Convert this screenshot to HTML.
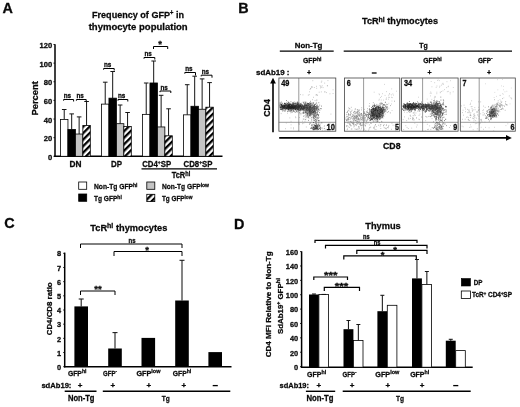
<!DOCTYPE html>
<html><head><meta charset="utf-8"><title>Figure</title>
<style>
html,body{margin:0;padding:0;background:#fff;}
body{width:520px;height:407px;overflow:hidden;}
svg{display:block;font-family:"Liberation Sans",sans-serif;filter:blur(0.4px);}
text{fill:#0a0a0a;stroke:#0a0a0a;stroke-width:0.28px;}
</style></head><body>
<svg width="520" height="407" viewBox="0 0 520 407">
<defs>
<pattern id="hatch" width="4.6" height="4.6" patternUnits="userSpaceOnUse" patternTransform="rotate(-45)">
<rect width="4.6" height="4.6" fill="#fff"/><rect width="4.6" height="2.3" fill="#000"/>
</pattern>
</defs>
<rect width="520" height="407" fill="#fff"/>
<g>
<text x="7.75" y="12.78" font-size="14.4" text-anchor="middle" font-weight="bold">A</text>
<text x="243.5" y="12.78" font-size="14.4" text-anchor="middle" font-weight="bold">B</text>
<text x="9.5" y="228.18" font-size="14.4" text-anchor="middle" font-weight="bold">C</text>
<text x="239.3" y="229.18" font-size="14.4" text-anchor="middle" font-weight="bold">D</text>
<text x="138" y="17.63" font-size="9.8" text-anchor="middle" font-weight="bold" textLength="92" lengthAdjust="spacingAndGlyphs">Frequency of GFP<tspan font-size="64%" dy="-0.475em">+</tspan><tspan dy="0.304em"> in</tspan></text>
<text x="138.2" y="30.13" font-size="9.8" text-anchor="middle" font-weight="bold" textLength="99" lengthAdjust="spacingAndGlyphs">thymocyte population</text>
<path d="M55 44.3L55 157.0" stroke="#000" stroke-width="1.5" fill="none"/>
<path d="M54.3 156.3L222.5 156.3" stroke="#000" stroke-width="1.5" fill="none"/>
<path d="M53.4 156.3L55 156.3" stroke="#000" stroke-width="0.8" fill="none"/>
<text x="52.2" y="159.94" font-size="7.6" text-anchor="end" font-weight="bold">0</text>
<path d="M53.4 137.666L55 137.666" stroke="#000" stroke-width="0.8" fill="none"/>
<text x="52.2" y="141.30" font-size="7.6" text-anchor="end" font-weight="bold">20</text>
<path d="M53.4 119.03200000000001L55 119.03200000000001" stroke="#000" stroke-width="0.8" fill="none"/>
<text x="52.2" y="122.67" font-size="7.6" text-anchor="end" font-weight="bold">40</text>
<path d="M53.4 100.39800000000001L55 100.39800000000001" stroke="#000" stroke-width="0.8" fill="none"/>
<text x="52.2" y="104.03" font-size="7.6" text-anchor="end" font-weight="bold">60</text>
<path d="M53.4 81.76400000000001L55 81.76400000000001" stroke="#000" stroke-width="0.8" fill="none"/>
<text x="52.2" y="85.40" font-size="7.6" text-anchor="end" font-weight="bold">80</text>
<path d="M53.4 63.13000000000001L55 63.13000000000001" stroke="#000" stroke-width="0.8" fill="none"/>
<text x="52.2" y="66.77" font-size="7.6" text-anchor="end" font-weight="bold">100</text>
<path d="M53.4 44.49600000000001L55 44.49600000000001" stroke="#000" stroke-width="0.8" fill="none"/>
<text x="52.2" y="48.13" font-size="7.6" text-anchor="end" font-weight="bold">120</text>
<text x="34.7" y="101.72" font-size="9.5" text-anchor="middle" font-weight="bold" textLength="34.3" lengthAdjust="spacingAndGlyphs" transform="rotate(-90 34.7 98.3)">Percent</text>
<path d="M64.225 119.40468000000001L64.225 109.5" stroke="#151515" stroke-width="1.0" fill="none"/>
<path d="M61.925 109.5L66.52499999999999 109.5" stroke="#151515" stroke-width="1.0" fill="none"/>
<rect x="60.50" y="119.40" width="7.45" height="36.90" fill="#fff" stroke="#000" stroke-width="0.8"/>
<path d="M71.675 129.46704L71.675 113.9" stroke="#151515" stroke-width="1.0" fill="none"/>
<path d="M69.375 113.9L73.975 113.9" stroke="#151515" stroke-width="1.0" fill="none"/>
<rect x="67.95" y="129.47" width="7.45" height="26.83" fill="#000" stroke="#000" stroke-width="0.8"/>
<path d="M79.125 134.03237000000001L79.125 116.9" stroke="#151515" stroke-width="1.0" fill="none"/>
<path d="M76.825 116.9L81.425 116.9" stroke="#151515" stroke-width="1.0" fill="none"/>
<rect x="75.40" y="134.03" width="7.45" height="22.27" fill="#c4c4c4" stroke="#000" stroke-width="0.8"/>
<path d="M86.57499999999999 125.55390000000001L86.57499999999999 101.5" stroke="#151515" stroke-width="1.0" fill="none"/>
<path d="M84.27499999999999 101.5L88.87499999999999 101.5" stroke="#151515" stroke-width="1.0" fill="none"/>
<rect x="82.85" y="125.55" width="7.45" height="30.75" fill="url(#hatch)" stroke="#000" stroke-width="0.8"/>
<path d="M105.225 104.12480000000002L105.225 82.2" stroke="#151515" stroke-width="1.0" fill="none"/>
<path d="M102.925 82.2L107.52499999999999 82.2" stroke="#151515" stroke-width="1.0" fill="none"/>
<rect x="101.50" y="104.12" width="7.45" height="52.18" fill="#fff" stroke="#000" stroke-width="0.8"/>
<path d="M112.675 98.16192000000001L112.675 71.5" stroke="#151515" stroke-width="1.0" fill="none"/>
<path d="M110.375 71.5L114.975 71.5" stroke="#151515" stroke-width="1.0" fill="none"/>
<rect x="108.95" y="98.16" width="7.45" height="58.14" fill="#000" stroke="#000" stroke-width="0.8"/>
<path d="M120.125 123.69050000000001L120.125 105" stroke="#151515" stroke-width="1.0" fill="none"/>
<path d="M117.825 105L122.425 105" stroke="#151515" stroke-width="1.0" fill="none"/>
<rect x="116.40" y="123.69" width="7.45" height="32.61" fill="#c4c4c4" stroke="#000" stroke-width="0.8"/>
<path d="M127.57499999999999 126.4856L127.57499999999999 112.5" stroke="#151515" stroke-width="1.0" fill="none"/>
<path d="M125.27499999999999 112.5L129.875 112.5" stroke="#151515" stroke-width="1.0" fill="none"/>
<rect x="123.85" y="126.49" width="7.45" height="29.81" fill="url(#hatch)" stroke="#000" stroke-width="0.8"/>
<path d="M146.225 114.3735L146.225 83" stroke="#151515" stroke-width="1.0" fill="none"/>
<path d="M143.92499999999998 83L148.525 83" stroke="#151515" stroke-width="1.0" fill="none"/>
<rect x="142.50" y="114.37" width="7.45" height="41.93" fill="#fff" stroke="#000" stroke-width="0.8"/>
<path d="M153.67499999999998 82.97521L153.67499999999998 61" stroke="#151515" stroke-width="1.0" fill="none"/>
<path d="M151.37499999999997 61L155.975 61" stroke="#151515" stroke-width="1.0" fill="none"/>
<rect x="149.95" y="82.98" width="7.45" height="73.32" fill="#000" stroke="#000" stroke-width="0.8"/>
<path d="M161.125 126.95145000000001L161.125 95.3" stroke="#151515" stroke-width="1.0" fill="none"/>
<path d="M158.825 95.3L163.425 95.3" stroke="#151515" stroke-width="1.0" fill="none"/>
<rect x="157.40" y="126.95" width="7.45" height="29.35" fill="#c4c4c4" stroke="#000" stroke-width="0.8"/>
<path d="M168.575 135.8026L168.575 108.8" stroke="#151515" stroke-width="1.0" fill="none"/>
<path d="M166.27499999999998 108.8L170.875 108.8" stroke="#151515" stroke-width="1.0" fill="none"/>
<rect x="164.85" y="135.80" width="7.45" height="20.50" fill="url(#hatch)" stroke="#000" stroke-width="0.8"/>
<path d="M187.225 114.83935000000001L187.225 84.7" stroke="#151515" stroke-width="1.0" fill="none"/>
<path d="M184.92499999999998 84.7L189.525 84.7" stroke="#151515" stroke-width="1.0" fill="none"/>
<rect x="183.50" y="114.84" width="7.45" height="41.46" fill="#fff" stroke="#000" stroke-width="0.8"/>
<path d="M194.67499999999998 106.26771000000001L194.67499999999998 76.2" stroke="#151515" stroke-width="1.0" fill="none"/>
<path d="M192.37499999999997 76.2L196.975 76.2" stroke="#151515" stroke-width="1.0" fill="none"/>
<rect x="190.95" y="106.27" width="7.45" height="50.03" fill="#000" stroke="#000" stroke-width="0.8"/>
<path d="M202.125 109.24915000000001L202.125 78.9" stroke="#151515" stroke-width="1.0" fill="none"/>
<path d="M199.825 78.9L204.425 78.9" stroke="#151515" stroke-width="1.0" fill="none"/>
<rect x="198.40" y="109.25" width="7.45" height="47.05" fill="#c4c4c4" stroke="#000" stroke-width="0.8"/>
<path d="M209.575 107.19941L209.575 82.6" stroke="#151515" stroke-width="1.0" fill="none"/>
<path d="M207.27499999999998 82.6L211.875 82.6" stroke="#151515" stroke-width="1.0" fill="none"/>
<rect x="205.85" y="107.20" width="7.45" height="49.10" fill="url(#hatch)" stroke="#000" stroke-width="0.8"/>
<path d="M63.6 100.7L63.6 99.5L73.6 99.5L73.6 101.5" stroke="#000" stroke-width="1.0" fill="none"/>
<text x="67.39999999999999" y="98.34" font-size="7.6" text-anchor="middle" font-weight="bold" textLength="7.4" lengthAdjust="spacingAndGlyphs">ns</text>
<path d="M76.4 100.7L76.4 99.5L86.2 99.5L86.2 101.5" stroke="#000" stroke-width="1.0" fill="none"/>
<text x="80.10000000000001" y="98.34" font-size="7.6" text-anchor="middle" font-weight="bold" textLength="7.4" lengthAdjust="spacingAndGlyphs">ns</text>
<path d="M103.6 69.7L103.6 68.5L114.2 68.5L114.2 70.5" stroke="#000" stroke-width="1.0" fill="none"/>
<text x="107.7" y="67.34" font-size="7.6" text-anchor="middle" font-weight="bold" textLength="7.4" lengthAdjust="spacingAndGlyphs">ns</text>
<path d="M118 100.7L118 99.5L127.8 99.5L127.8 101.5" stroke="#000" stroke-width="1.0" fill="none"/>
<text x="121.7" y="98.34" font-size="7.6" text-anchor="middle" font-weight="bold" textLength="7.4" lengthAdjust="spacingAndGlyphs">ns</text>
<path d="M144 58.7L144 57.5L154.8 57.5L154.8 59.5" stroke="#000" stroke-width="1.0" fill="none"/>
<text x="148.20000000000002" y="56.34" font-size="7.6" text-anchor="middle" font-weight="bold" textLength="7.4" lengthAdjust="spacingAndGlyphs">ns</text>
<path d="M160 92.2L160 91L170.8 91L170.8 93" stroke="#000" stroke-width="1.0" fill="none"/>
<text x="164.20000000000002" y="89.84" font-size="7.6" text-anchor="middle" font-weight="bold" textLength="7.4" lengthAdjust="spacingAndGlyphs">ns</text>
<path d="M184.8 73.7L184.8 72.5L195.5 72.5L195.5 75.5" stroke="#000" stroke-width="1.0" fill="none"/>
<text x="188.95000000000002" y="71.34" font-size="7.6" text-anchor="middle" font-weight="bold" textLength="7.4" lengthAdjust="spacingAndGlyphs">ns</text>
<path d="M201.2 76.4L201.2 75.2L212 75.2L212 77.7" stroke="#000" stroke-width="1.0" fill="none"/>
<text x="205.4" y="74.04" font-size="7.6" text-anchor="middle" font-weight="bold" textLength="7.4" lengthAdjust="spacingAndGlyphs">ns</text>
<path d="M153.5 49L153.5 46.5L167.7 46.5L167.7 49" stroke="#000" stroke-width="1.0" fill="none"/>
<text x="160" y="47.42" font-size="9.5" text-anchor="middle" font-weight="bold">*</text>
<text x="75.5" y="167.24" font-size="9" text-anchor="middle" font-weight="bold" textLength="12" lengthAdjust="spacingAndGlyphs">DN</text>
<text x="116.5" y="167.24" font-size="9" text-anchor="middle" font-weight="bold" textLength="11" lengthAdjust="spacingAndGlyphs">DP</text>
<text x="156.7" y="166.95" font-size="9.3" text-anchor="middle" font-weight="bold" textLength="29" lengthAdjust="spacingAndGlyphs">CD4<tspan font-size="64%" dy="-0.475em">+</tspan><tspan dy="0.304em">SP</tspan></text>
<text x="198" y="166.95" font-size="9.3" text-anchor="middle" font-weight="bold" textLength="29" lengthAdjust="spacingAndGlyphs">CD8<tspan font-size="64%" dy="-0.475em">+</tspan><tspan dy="0.304em">SP</tspan></text>
<path d="M141.5 168.8L217 168.8" stroke="#000" stroke-width="1.2" fill="none"/>
<text x="181" y="178.40" font-size="8.6" text-anchor="middle" font-weight="bold" textLength="18.5" lengthAdjust="spacingAndGlyphs">TcR<tspan font-size="76%" dy="-0.4em">hi</tspan></text>
<rect x="78.70" y="182.00" width="8.00" height="7.30" fill="#fff" stroke="#000" stroke-width="0.8"/>
<rect x="78.70" y="194.00" width="8.00" height="7.30" fill="#000" stroke="#000" stroke-width="0.8"/>
<rect x="146.80" y="182.00" width="8.00" height="7.30" fill="#c4c4c4" stroke="#000" stroke-width="0.8"/>
<rect x="146.80" y="194.30" width="8.00" height="7.30" fill="url(#hatch)" stroke="#000" stroke-width="0.8"/>
<text x="94" y="189.20" font-size="7.5" text-anchor="start" font-weight="bold" textLength="43.5" lengthAdjust="spacingAndGlyphs">Non-Tg GFP<tspan font-size="76%" dy="-0.4em">hi</tspan></text>
<text x="94" y="201.20" font-size="7.5" text-anchor="start" font-weight="bold" textLength="27.8" lengthAdjust="spacingAndGlyphs">Tg GFP<tspan font-size="76%" dy="-0.4em">hi</tspan></text>
<text x="162" y="189.20" font-size="7.5" text-anchor="start" font-weight="bold" textLength="47" lengthAdjust="spacingAndGlyphs">Non-Tg GFP<tspan font-size="76%" dy="-0.4em">low</tspan></text>
<text x="162" y="201.20" font-size="7.5" text-anchor="start" font-weight="bold" textLength="30.5" lengthAdjust="spacingAndGlyphs">Tg GFP<tspan font-size="76%" dy="-0.4em">low</tspan></text>
<text x="400" y="24.46" font-size="9.6" text-anchor="middle" font-weight="bold" textLength="76" lengthAdjust="spacingAndGlyphs">TcR<tspan font-size="76%" dy="-0.4em">hi</tspan><tspan dy="0.304em"> thymocytes</tspan></text>
<text x="308.5" y="48.18" font-size="8" text-anchor="middle" font-weight="bold" textLength="27.5" lengthAdjust="spacingAndGlyphs">Non-Tg</text>
<path d="M279.8 51.2L333.7 51.2" stroke="#000" stroke-width="1.3" fill="none"/>
<text x="423.6" y="47.88" font-size="8" text-anchor="middle" font-weight="bold" textLength="8.5" lengthAdjust="spacingAndGlyphs">Tg</text>
<path d="M343.7 51.2L512 51.2" stroke="#000" stroke-width="1.3" fill="none"/>
<text x="312.3" y="62.94" font-size="7.6" text-anchor="middle" font-weight="bold" textLength="18.5" lengthAdjust="spacingAndGlyphs">GFP<tspan font-size="76%" dy="-0.4em">hi</tspan></text>
<text x="432.5" y="62.94" font-size="7.6" text-anchor="middle" font-weight="bold" textLength="18.5" lengthAdjust="spacingAndGlyphs">GFP<tspan font-size="76%" dy="-0.4em">hi</tspan></text>
<text x="485.3" y="62.54" font-size="7.6" text-anchor="middle" font-weight="bold" textLength="14.8" lengthAdjust="spacingAndGlyphs">GFP<tspan font-size="76%" dy="-0.4em">-</tspan></text>
<text x="256" y="74.81" font-size="7.8" text-anchor="start" font-weight="bold" textLength="33.5" lengthAdjust="spacingAndGlyphs">sdAb19 :</text>
<text x="309" y="75.32" font-size="7" text-anchor="middle" font-weight="bold">+</text>
<text x="429.5" y="75.32" font-size="7" text-anchor="middle" font-weight="bold">+</text>
<text x="489" y="75.32" font-size="7" text-anchor="middle" font-weight="bold">+</text>
<path d="M371.8 73L376.6 73" stroke="#000" stroke-width="1.3" fill="none"/>
<rect x="278.90" y="78.00" width="56.90" height="53.20" fill="#fff" stroke="#444" stroke-width="0.8"/>
<path d="M298.8 78.0L298.8 131.2" stroke="#555" stroke-width="0.6" fill="none"/>
<path d="M278.9 122.3L335.8 122.3" stroke="#555" stroke-width="0.6" fill="none"/>
<text x="281.2" y="85.99" font-size="8.3" text-anchor="start" font-weight="bold" textLength="8.2" lengthAdjust="spacingAndGlyphs">49</text>
<text x="335.0" y="130.29" font-size="8.3" text-anchor="end" font-weight="bold" textLength="8.4" lengthAdjust="spacingAndGlyphs">10</text>
<rect x="344.40" y="78.00" width="55.40" height="53.20" fill="#fff" stroke="#444" stroke-width="0.8"/>
<path d="M363.6 78.0L363.6 131.2" stroke="#555" stroke-width="0.6" fill="none"/>
<path d="M344.4 122.3L399.8 122.3" stroke="#555" stroke-width="0.6" fill="none"/>
<text x="346.7" y="85.99" font-size="8.3" text-anchor="start" font-weight="bold" textLength="4.0" lengthAdjust="spacingAndGlyphs">6</text>
<text x="399.0" y="130.29" font-size="8.3" text-anchor="end" font-weight="bold" textLength="4.0" lengthAdjust="spacingAndGlyphs">5</text>
<rect x="401.60" y="78.00" width="56.50" height="53.20" fill="#fff" stroke="#444" stroke-width="0.8"/>
<path d="M422.6 78.0L422.6 131.2" stroke="#555" stroke-width="0.6" fill="none"/>
<path d="M401.6 122.3L458.1 122.3" stroke="#555" stroke-width="0.6" fill="none"/>
<text x="403.90000000000003" y="85.99" font-size="8.3" text-anchor="start" font-weight="bold" textLength="8.2" lengthAdjust="spacingAndGlyphs">34</text>
<text x="457.3" y="130.29" font-size="8.3" text-anchor="end" font-weight="bold" textLength="4.0" lengthAdjust="spacingAndGlyphs">9</text>
<rect x="460.30" y="78.00" width="55.00" height="53.20" fill="#fff" stroke="#444" stroke-width="0.8"/>
<path d="M479.2 78.0L479.2 131.2" stroke="#555" stroke-width="0.6" fill="none"/>
<path d="M460.3 122.3L515.3 122.3" stroke="#555" stroke-width="0.6" fill="none"/>
<text x="462.6" y="85.99" font-size="8.3" text-anchor="start" font-weight="bold" textLength="4.0" lengthAdjust="spacingAndGlyphs">7</text>
<text x="514.5" y="130.29" font-size="8.3" text-anchor="end" font-weight="bold" textLength="4.0" lengthAdjust="spacingAndGlyphs">6</text>
<path d="M287.1 107.7h.7M287.3 106.2h.7M282.0 106.4h.7M297.3 107.6h.7M296.8 107.2h.7M292.0 107.1h.7M292.8 107.7h.7M282.3 106.0h.7M291.3 106.7h.7M292.9 105.6h.7M291.3 107.5h.7M284.0 109.9h.7M293.2 109.0h.7M284.3 105.5h.7M286.4 106.6h.7M293.7 107.2h.7M285.6 105.1h.7M285.1 109.0h.7M282.9 107.2h.7M292.2 104.1h.7M289.4 109.2h.7M288.2 105.3h.7M292.7 106.7h.7M294.0 108.5h.7M299.8 107.5h.7M289.9 104.5h.7M293.6 105.7h.7M285.6 104.5h.7M281.7 105.8h.7M298.7 103.1h.7M299.8 107.8h.7M291.7 105.5h.7M280.6 108.6h.7M297.3 107.1h.7M290.8 107.6h.7M301.0 107.9h.7M292.9 107.8h.7M296.2 107.8h.7M295.3 103.5h.7M287.6 108.6h.7M293.1 106.5h.7M291.4 108.0h.7M289.9 108.9h.7M284.0 106.1h.7M296.8 106.8h.7M282.4 108.5h.7M300.0 106.0h.7M287.9 106.3h.7M299.5 105.0h.7M298.5 104.5h.7M283.1 107.9h.7M297.5 108.3h.7M291.6 107.1h.7M290.1 107.8h.7M287.7 107.3h.7M293.3 106.8h.7M294.7 107.8h.7M304.1 107.4h.7M285.8 106.1h.7M288.9 108.5h.7M286.5 107.5h.7M302.8 102.2h.7M280.6 107.2h.7M292.0 107.2h.7M285.8 108.0h.7M291.1 105.9h.7M307.2 107.4h.7M284.8 106.6h.7M287.3 106.7h.7M296.6 104.7h.7M288.5 108.5h.7M295.4 109.5h.7M286.4 107.9h.7M297.2 102.0h.7M297.2 104.2h.7M294.1 104.1h.7M290.3 109.0h.7M287.9 107.1h.7M295.0 107.1h.7M288.3 109.6h.7M296.9 106.3h.7M309.6 104.7h.7M295.9 106.3h.7M290.0 108.1h.7M290.7 107.9h.7M293.6 105.1h.7M281.3 104.2h.7M298.5 108.1h.7M300.0 105.1h.7M289.0 104.7h.7M294.7 109.7h.7M282.3 109.6h.7M296.4 106.5h.7M288.3 105.7h.7M292.0 107.5h.7M300.2 105.0h.7M297.5 109.5h.7M299.9 106.5h.7M283.4 108.6h.7M289.9 107.0h.7M299.7 106.3h.7M291.4 105.7h.7M288.9 108.3h.7M289.6 109.2h.7M288.5 108.7h.7M300.2 109.7h.7M284.0 108.4h.7M279.8 106.8h.7M287.6 106.7h.7M284.6 107.2h.7M302.4 106.9h.7M293.0 108.6h.7M287.5 104.5h.7M284.8 108.7h.7M296.6 108.2h.7M289.1 108.2h.7M290.2 104.7h.7M295.9 105.8h.7M282.2 105.4h.7M280.2 107.5h.7M284.2 103.3h.7M294.4 106.3h.7M291.2 106.0h.7M294.8 108.1h.7M294.0 107.4h.7M299.0 108.0h.7M292.4 103.0h.7M295.7 109.2h.7M286.8 106.0h.7M303.6 103.6h.7M292.5 111.2h.7M282.0 108.0h.7M303.1 106.6h.7M293.2 108.4h.7M282.2 106.6h.7M291.2 108.3h.7M288.7 106.4h.7M281.4 106.2h.7M295.7 107.0h.7M282.6 105.3h.7M309.0 108.9h.7M293.8 102.1h.7M293.7 107.7h.7M301.6 107.6h.7M288.5 107.7h.7M291.4 105.5h.7M298.9 110.1h.7M291.2 107.1h.7M286.0 105.0h.7M304.9 108.7h.7M280.0 104.4h.7M301.8 108.6h.7M302.7 108.3h.7M282.5 107.3h.7M288.6 107.7h.7M283.5 106.6h.7M292.4 107.5h.7M293.8 107.2h.7M286.6 108.2h.7M289.4 105.3h.7M284.3 106.8h.7M288.2 107.1h.7M289.0 107.1h.7M288.0 104.5h.7M292.2 108.7h.7M292.3 106.5h.7M292.3 105.1h.7M282.0 108.1h.7M280.9 102.1h.7M281.2 109.6h.7M286.1 104.3h.7M283.3 107.7h.7M292.7 107.1h.7M300.1 108.1h.7M288.8 107.9h.7M301.4 108.5h.7M296.7 104.9h.7M287.9 108.1h.7M286.8 108.7h.7M293.5 108.4h.7M287.4 111.4h.7M298.3 106.4h.7M289.7 111.5h.7M286.4 108.4h.7M296.4 106.8h.7M280.2 107.1h.7M291.7 108.8h.7M294.9 106.8h.7M295.4 107.8h.7M290.5 106.9h.7M287.2 108.0h.7M281.1 105.7h.7M289.0 104.2h.7M285.7 103.2h.7M283.9 107.8h.7M293.2 106.7h.7M287.3 104.2h.7M302.7 107.7h.7M297.2 105.2h.7M287.6 103.5h.7M294.9 108.5h.7M293.7 103.6h.7M284.3 104.3h.7M289.2 107.2h.7M293.8 108.1h.7M300.3 108.9h.7M281.0 104.9h.7M288.4 106.8h.7M292.7 103.9h.7M279.7 106.8h.7M287.5 106.2h.7M288.5 105.4h.7M294.3 107.4h.7M288.3 105.6h.7M287.7 101.9h.7M281.6 106.9h.7M290.1 104.3h.7M287.1 106.2h.7M292.4 107.9h.7M288.7 105.3h.7M287.9 106.7h.7M294.5 107.3h.7M283.6 104.4h.7M286.2 105.5h.7M280.7 106.6h.7M285.3 107.0h.7M292.9 106.1h.7M306.4 106.2h.7M297.3 107.0h.7M297.4 102.5h.7M283.4 107.2h.7M293.5 111.0h.7M291.4 109.1h.7M294.7 108.5h.7M292.8 106.5h.7M292.8 104.9h.7M297.9 105.0h.7M290.9 110.6h.7M287.3 106.8h.7M297.7 106.8h.7M282.9 107.3h.7M293.4 108.1h.7M283.2 110.0h.7M301.5 106.8h.7M291.0 106.0h.7M299.6 105.5h.7M294.1 105.9h.7M283.8 108.1h.7M299.0 106.8h.7M283.9 108.3h.7M288.6 107.4h.7M300.4 108.8h.7M285.1 110.9h.7M289.0 108.2h.7M284.1 106.7h.7M299.2 104.6h.7M297.8 106.0h.7M288.5 106.2h.7M288.1 104.8h.7M289.2 104.2h.7M288.5 107.4h.7M292.5 106.4h.7M282.2 107.1h.7M285.4 109.6h.7M294.8 106.6h.7M285.5 105.5h.7M282.0 106.2h.7M291.2 107.7h.7M293.3 110.6h.7M283.7 106.8h.7M310.0 103.4h.7M285.1 107.1h.7M290.2 107.5h.7M287.2 107.5h.7M289.4 108.2h.7M289.0 104.9h.7M281.2 107.9h.7M284.1 107.9h.7M294.6 107.4h.7M292.8 106.6h.7M292.4 105.8h.7M288.3 108.1h.7M282.4 108.0h.7M303.0 105.8h.7M290.1 106.5h.7M300.6 107.4h.7M295.7 105.6h.7M288.9 106.8h.7M295.7 103.7h.7M294.6 106.6h.7M292.4 107.5h.7M300.2 105.8h.7M281.3 104.4h.7M279.8 107.4h.7M301.7 107.6h.7M290.8 110.8h.7M285.1 105.6h.7M293.0 107.8h.7M281.4 104.7h.7M291.2 107.2h.7M284.9 107.6h.7M288.1 106.6h.7M286.3 108.7h.7M299.4 106.1h.7M295.3 105.4h.7M289.5 108.1h.7M300.4 106.1h.7M288.4 107.2h.7M283.9 107.5h.7M280.5 103.2h.7M289.3 107.3h.7M284.9 108.4h.7M287.0 105.7h.7M292.6 104.0h.7M283.9 106.8h.7M295.4 106.5h.7M291.3 105.6h.7M291.3 109.8h.7M283.9 111.1h.7M284.2 106.8h.7M290.3 108.6h.7M279.7 103.0h.7M293.5 108.2h.7M293.7 111.5h.7M290.5 107.3h.7M296.0 107.5h.7M301.5 104.6h.7M286.2 100.6h.7M295.1 106.1h.7M295.9 110.7h.7M289.0 106.3h.7M285.3 105.3h.7M284.3 108.0h.7M289.3 106.9h.7M287.7 108.4h.7M292.7 106.5h.7M294.0 106.5h.7M280.4 109.4h.7M292.5 105.1h.7M297.1 107.4h.7M291.5 108.4h.7M290.5 106.5h.7M289.2 106.3h.7M291.6 106.9h.7M294.1 106.1h.7M288.7 102.9h.7M285.8 108.0h.7M299.0 106.1h.7M288.1 109.7h.7M286.6 108.1h.7M301.6 106.9h.7M298.2 105.5h.7M290.6 106.7h.7M289.9 108.8h.7M306.9 105.6h.7M284.7 107.7h.7M281.1 107.7h.7M293.3 106.3h.7M293.0 104.0h.7M294.7 104.0h.7M283.8 105.8h.7M286.0 108.3h.7M289.6 106.1h.7M293.1 109.6h.7M289.0 107.5h.7M298.3 107.3h.7M305.6 103.2h.7M288.7 107.6h.7M296.2 108.0h.7M287.0 104.9h.7M289.8 108.7h.7M280.8 105.0h.7M288.8 103.3h.7M287.0 106.0h.7M292.4 105.5h.7M282.4 106.1h.7M288.6 105.6h.7M289.1 108.2h.7M297.9 109.9h.7M283.1 106.0h.7M283.6 106.7h.7M292.9 104.4h.7M292.5 106.8h.7M298.0 103.4h.7M295.1 107.2h.7M292.6 107.6h.7M298.8 106.4h.7M295.6 106.1h.7M294.5 105.3h.7M288.2 109.9h.7M292.3 106.5h.7M280.4 105.4h.7M290.5 108.5h.7M292.2 107.7h.7M288.7 109.2h.7M286.1 105.8h.7M295.7 106.9h.7M286.9 105.8h.7M287.1 107.9h.7M291.7 104.6h.7M292.2 107.1h.7M281.5 108.2h.7M286.9 106.2h.7M295.0 109.2h.7M283.8 107.6h.7M282.4 111.0h.7M285.3 109.0h.7M284.1 108.3h.7M305.6 102.2h.7M285.7 107.7h.7M288.3 105.6h.7M305.1 106.9h.7M284.7 107.1h.7M298.5 107.0h.7M297.9 108.1h.7M282.9 108.3h.7M292.7 108.0h.7M295.8 108.1h.7M295.6 102.4h.7M290.3 107.7h.7M308.1 105.1h.7M286.5 106.9h.7M295.6 106.0h.7M297.6 105.4h.7M291.0 105.9h.7M290.2 105.6h.7M291.3 105.8h.7M290.5 108.6h.7M281.7 106.6h.7M293.0 107.7h.7M286.5 103.0h.7M298.3 107.4h.7M289.1 106.3h.7M291.0 106.0h.7M281.3 105.5h.7M284.5 105.7h.7M280.3 107.9h.7M281.4 107.4h.7M299.3 107.2h.7M283.5 106.9h.7M290.1 103.7h.7M284.4 107.1h.7M285.5 106.9h.7M294.5 108.2h.7M295.8 107.9h.7M286.8 106.8h.7M287.0 106.2h.7M287.7 103.7h.7M286.5 106.8h.7M281.7 106.8h.7M292.9 106.5h.7M304.6 102.1h.7M287.5 103.5h.7M296.3 111.6h.7M292.9 106.3h.7M293.1 102.8h.7M295.4 107.5h.7M289.2 105.7h.7M293.8 105.9h.7M290.7 105.9h.7M290.5 108.2h.7M282.4 106.7h.7M293.6 107.1h.7M298.3 110.4h.7M282.2 103.3h.7M295.4 109.6h.7M295.9 108.3h.7M284.4 105.5h.7M295.7 105.2h.7M307.7 110.3h.7M283.9 105.5h.7M290.7 105.5h.7M298.8 106.7h.7M280.9 109.2h.7M284.6 107.2h.7M288.9 106.2h.7M291.4 105.6h.7M279.5 105.4h.7M288.8 106.9h.7M293.2 107.0h.7M283.0 105.5h.7M292.6 107.8h.7M288.1 106.5h.7M296.0 106.8h.7M294.5 107.8h.7M290.6 109.2h.7M284.7 106.2h.7M282.9 105.4h.7M300.7 110.0h.7M289.2 107.8h.7M297.8 108.3h.7M298.0 104.5h.7M284.2 107.6h.7M299.8 107.0h.7M282.6 106.2h.7M284.0 105.3h.7M300.3 105.7h.7M289.2 110.7h.7M297.9 107.4h.7M284.4 107.5h.7M301.2 107.9h.7M298.5 107.0h.7M292.9 106.4h.7M292.2 109.1h.7M290.8 105.8h.7M286.7 108.2h.7M304.0 107.9h.7M291.4 104.0h.7M303.5 106.9h.7M288.7 104.8h.7M288.6 104.8h.7M289.5 107.6h.7M289.2 107.3h.7M282.6 109.4h.7M284.1 103.5h.7M287.6 105.4h.7M281.4 106.2h.7M291.2 104.7h.7M288.0 109.4h.7M294.1 106.5h.7M290.0 106.6h.7M288.6 108.1h.7M288.3 102.5h.7M288.8 105.2h.7M293.9 105.7h.7M290.1 110.7h.7M281.1 104.8h.7M284.2 103.4h.7M283.2 106.1h.7M291.5 109.2h.7M303.6 108.7h.7M290.1 107.1h.7M302.5 109.4h.7M286.7 107.6h.7M291.2 106.9h.7M285.2 104.4h.7M285.0 104.0h.7M298.2 107.8h.7M280.0 109.3h.7M295.7 103.4h.7M302.8 108.3h.7M304.5 104.6h.7M293.0 107.6h.7M290.5 107.1h.7M296.9 104.1h.7M279.7 104.3h.7M284.8 105.7h.7M291.8 107.3h.7M289.2 105.6h.7M285.7 108.5h.7M294.7 107.0h.7M286.6 109.6h.7M284.5 108.0h.7M297.7 106.3h.7M295.2 104.8h.7M296.6 107.2h.7M282.3 109.1h.7M283.9 106.5h.7M291.1 106.2h.7M290.9 105.8h.7M294.0 106.8h.7M290.6 101.8h.7M297.7 106.9h.7M292.5 108.7h.7M280.9 109.6h.7M287.8 111.1h.7M287.9 108.0h.7M286.3 104.8h.7M297.2 108.4h.7M300.5 108.3h.7M284.7 103.8h.7M284.1 105.6h.7M282.9 107.8h.7M291.5 106.3h.7M290.3 106.5h.7M290.6 108.2h.7M296.2 105.6h.7M289.9 108.8h.7M289.2 104.2h.7M285.1 108.1h.7M297.1 109.7h.7M282.5 104.3h.7M292.9 108.5h.7M290.4 104.5h.7M294.9 108.2h.7M293.2 105.9h.7M291.3 108.2h.7M284.8 103.5h.7M291.5 107.7h.7M289.1 108.4h.7M284.6 106.7h.7M286.7 107.8h.7M301.0 106.3h.7M304.4 109.6h.7M294.9 107.9h.7M302.3 106.5h.7M288.2 104.9h.7" stroke="#222" stroke-width="0.7" fill="none"/>
<path d="M305.8 110.1h.7M306.2 108.2h.7M301.8 107.7h.7M294.4 109.5h.7M300.5 105.2h.7M298.5 105.8h.7M308.1 109.5h.7M294.9 109.3h.7M308.3 106.2h.7M294.1 105.9h.7M299.2 108.1h.7M300.9 103.3h.7M304.4 104.3h.7M308.4 105.0h.7M298.8 105.7h.7M299.7 110.0h.7M308.1 108.6h.7M304.9 104.3h.7M299.9 106.3h.7M297.1 108.4h.7M298.6 106.0h.7M296.7 103.3h.7M306.6 110.1h.7M304.0 105.4h.7M286.8 107.7h.7M310.3 108.0h.7M308.6 110.4h.7M309.8 106.5h.7M309.3 109.0h.7M293.8 106.6h.7M294.5 107.2h.7M306.5 105.3h.7M290.7 110.0h.7M305.3 110.3h.7M295.1 109.5h.7M315.4 111.4h.7M301.7 107.9h.7M302.1 109.4h.7M309.2 107.6h.7M294.8 108.9h.7M300.2 108.7h.7M304.6 110.6h.7M309.8 106.5h.7M305.1 110.9h.7M299.8 108.3h.7M310.1 109.9h.7M306.1 104.8h.7M295.4 107.9h.7M305.3 112.5h.7M297.8 109.7h.7M307.6 104.1h.7M298.1 107.7h.7M300.0 107.1h.7M305.8 105.8h.7M305.8 106.1h.7M299.7 108.5h.7M299.6 108.0h.7M312.6 107.5h.7M302.1 108.9h.7M300.8 109.6h.7M295.3 108.6h.7M299.9 105.8h.7M313.6 105.7h.7M313.5 108.7h.7M311.7 105.4h.7M310.2 110.3h.7M302.3 107.1h.7M317.7 107.8h.7M300.5 106.1h.7M305.7 108.1h.7M304.1 110.8h.7M301.0 108.3h.7M311.8 105.4h.7M309.2 111.1h.7M294.9 105.2h.7M296.8 103.7h.7M305.7 103.7h.7M306.0 110.3h.7M293.3 106.8h.7M291.5 109.0h.7M298.6 106.9h.7M303.3 108.5h.7M300.9 107.4h.7M299.7 107.6h.7M296.0 107.5h.7M291.4 106.4h.7M314.5 107.6h.7M295.4 107.9h.7M297.2 104.1h.7M298.6 108.9h.7M305.3 107.2h.7M297.4 105.2h.7M311.1 107.9h.7M297.3 103.2h.7M294.8 112.4h.7M296.1 107.2h.7M304.3 107.1h.7M301.3 104.7h.7M296.7 110.8h.7M298.5 109.1h.7M292.8 106.9h.7M304.6 109.5h.7M296.3 108.6h.7M305.3 105.9h.7M305.9 105.6h.7M298.2 107.4h.7M286.7 107.2h.7M297.0 104.5h.7M300.4 108.9h.7M300.6 109.9h.7M296.0 104.8h.7M312.3 108.2h.7M308.7 105.7h.7M307.8 107.9h.7M306.9 107.5h.7M310.2 106.1h.7M297.2 104.4h.7M310.0 105.9h.7M296.7 105.5h.7M300.3 104.9h.7M301.3 106.1h.7M299.7 105.5h.7M303.2 106.5h.7M303.7 107.9h.7M305.0 103.0h.7M299.8 105.8h.7M307.6 104.2h.7M298.7 106.8h.7M301.0 109.4h.7M300.3 109.3h.7M294.2 103.8h.7M310.3 108.3h.7M305.9 107.6h.7M305.9 105.0h.7M308.7 106.3h.7M308.9 107.6h.7M291.2 104.8h.7M309.8 107.1h.7M300.6 107.9h.7M300.4 106.3h.7M303.6 107.7h.7M312.1 107.5h.7M314.3 111.0h.7M313.3 109.5h.7M303.8 107.7h.7M302.1 105.9h.7M302.6 106.1h.7M312.8 108.5h.7M300.3 103.6h.7M302.7 106.6h.7M296.5 105.1h.7M289.5 108.5h.7M302.6 112.6h.7M302.8 107.1h.7M311.7 107.7h.7M304.0 106.7h.7M299.4 110.4h.7M309.0 110.8h.7M300.9 107.5h.7M297.7 109.3h.7M294.6 108.5h.7M309.6 110.2h.7M297.4 109.6h.7M298.7 105.9h.7M295.1 109.7h.7M312.9 106.2h.7M298.4 106.7h.7M318.0 109.4h.7M299.7 103.8h.7M299.0 109.8h.7M314.2 106.9h.7M298.9 106.4h.7M291.7 109.2h.7M296.5 109.5h.7M292.8 104.9h.7M304.7 105.9h.7M307.7 107.4h.7M296.0 108.6h.7M308.1 103.6h.7M314.0 108.4h.7M307.6 103.7h.7M298.7 106.7h.7M309.5 104.5h.7M297.7 103.3h.7M301.6 108.1h.7M292.9 106.2h.7M306.1 110.6h.7M307.0 106.8h.7M295.9 105.5h.7M299.0 107.7h.7M302.7 110.7h.7M304.7 105.3h.7M312.3 109.3h.7M303.6 106.0h.7M291.8 105.4h.7M308.5 105.8h.7M295.1 107.8h.7M304.5 108.6h.7M306.9 110.2h.7M298.0 109.4h.7M297.1 108.8h.7M304.1 107.9h.7M308.8 107.4h.7M309.7 109.2h.7M303.8 106.3h.7M298.5 106.3h.7M301.8 107.4h.7M320.9 108.7h.7M307.6 105.7h.7M298.7 106.8h.7M304.2 105.3h.7M312.7 106.3h.7M309.5 102.7h.7M303.0 108.0h.7M304.1 108.6h.7M304.7 107.7h.7M291.6 106.0h.7M288.9 108.7h.7M304.8 107.0h.7M298.1 106.2h.7M314.1 110.9h.7M302.7 110.0h.7M293.5 103.5h.7M300.1 105.7h.7M299.6 107.8h.7M321.1 106.1h.7M303.3 108.0h.7M302.8 109.3h.7M313.7 104.9h.7M304.0 106.9h.7M305.1 104.3h.7M292.5 102.8h.7M306.2 107.8h.7M303.4 102.7h.7M300.8 105.9h.7M294.5 105.6h.7M307.2 108.5h.7M302.9 108.4h.7M299.4 107.5h.7M303.2 108.5h.7M302.6 107.1h.7M302.2 106.1h.7M316.4 108.4h.7M305.6 112.0h.7M311.4 104.3h.7M307.2 109.1h.7M314.3 110.0h.7M307.6 105.0h.7M297.8 107.9h.7M306.0 105.4h.7M300.7 106.6h.7M303.4 108.1h.7M301.3 104.9h.7M310.5 110.6h.7M302.4 109.4h.7M305.7 108.7h.7M305.9 105.9h.7M306.4 109.4h.7M297.6 111.3h.7M315.5 111.0h.7M314.9 108.9h.7M301.0 106.2h.7M298.1 107.6h.7M302.8 108.7h.7M290.9 112.0h.7M316.7 107.3h.7M307.1 108.4h.7M304.6 107.0h.7M302.3 105.8h.7M304.1 107.4h.7M304.9 105.7h.7M303.2 107.5h.7M306.6 105.3h.7M305.5 109.4h.7M306.6 106.7h.7M300.1 106.9h.7M307.4 110.5h.7M302.1 106.1h.7M305.3 107.8h.7M297.6 105.9h.7M302.4 108.7h.7M295.8 105.4h.7M306.0 105.0h.7M303.7 108.1h.7M302.3 105.4h.7M302.6 106.7h.7M305.0 105.7h.7M309.5 104.0h.7M301.9 107.4h.7M308.8 106.2h.7M306.3 106.3h.7M307.4 110.9h.7M300.6 108.3h.7M297.4 109.3h.7M310.3 107.5h.7M296.2 108.2h.7M309.9 109.6h.7M307.9 103.7h.7M298.9 110.2h.7M295.6 109.7h.7M314.3 108.9h.7M309.7 106.7h.7M295.6 107.2h.7M301.8 107.3h.7M307.2 107.1h.7M304.2 108.2h.7M303.0 111.1h.7M305.7 107.6h.7M301.8 106.1h.7M311.1 107.7h.7M296.5 106.3h.7M302.2 106.5h.7M309.5 105.1h.7M306.0 107.7h.7M295.9 107.5h.7M302.4 108.4h.7M300.3 108.0h.7M293.0 105.2h.7M307.7 109.5h.7M302.9 106.2h.7M309.5 103.2h.7M298.2 108.7h.7M306.9 105.3h.7M291.7 110.3h.7M303.9 105.6h.7M303.3 109.2h.7M287.4 109.6h.7M307.4 103.2h.7M307.6 103.8h.7M309.8 108.2h.7M316.5 106.2h.7M303.0 109.5h.7M299.2 106.0h.7M300.8 107.3h.7M296.5 108.4h.7M306.3 107.5h.7M313.2 106.7h.7M310.8 106.3h.7M307.5 103.5h.7M304.2 107.0h.7" stroke="#333" stroke-width="0.7" fill="none"/>
<path d="M308.9 107.8h.7M309.5 107.4h.7M301.8 107.9h.7M308.7 108.1h.7M306.6 109.5h.7M314.3 109.1h.7M308.9 114.9h.7M315.1 113.3h.7M315.9 108.8h.7M310.5 114.0h.7M308.7 109.6h.7M312.6 111.3h.7M309.8 113.5h.7M310.3 112.6h.7M315.5 112.4h.7M314.1 105.8h.7M305.5 107.8h.7M313.0 115.4h.7M305.9 111.1h.7M307.4 107.4h.7M309.8 112.5h.7M311.9 114.2h.7M306.9 113.2h.7M314.9 110.3h.7M313.0 108.0h.7M306.4 108.5h.7M308.3 120.4h.7M309.0 115.9h.7M311.8 111.1h.7M314.1 107.2h.7M314.8 111.4h.7M304.6 112.2h.7M313.3 111.6h.7M317.7 108.5h.7M313.1 112.7h.7M307.2 114.3h.7M304.9 105.3h.7M313.2 106.1h.7M310.5 104.1h.7M311.3 105.9h.7M312.4 104.5h.7M312.9 109.0h.7M311.3 109.8h.7M311.5 105.2h.7M300.2 110.1h.7M307.1 108.4h.7M312.8 102.9h.7M307.8 107.8h.7M306.6 111.2h.7M310.4 107.0h.7M306.9 112.9h.7M308.2 112.1h.7M312.9 103.2h.7M306.4 110.0h.7M312.4 112.8h.7M314.4 113.7h.7M309.4 109.2h.7M314.3 108.5h.7M315.4 104.3h.7M313.7 109.4h.7M302.7 113.5h.7M312.3 110.1h.7M306.5 108.3h.7M317.3 107.0h.7M296.4 106.9h.7M306.0 109.5h.7M309.3 106.7h.7M307.5 113.8h.7M304.9 117.0h.7M308.7 106.1h.7M314.3 112.0h.7M306.6 112.7h.7M303.3 106.7h.7M315.7 109.1h.7M305.5 111.9h.7M314.9 109.9h.7M303.4 108.8h.7M312.8 112.8h.7M318.8 109.1h.7M309.0 109.9h.7M316.1 106.6h.7M316.5 100.1h.7M314.3 107.6h.7M312.9 112.5h.7M306.0 109.7h.7M312.0 112.1h.7M307.1 106.4h.7M302.9 119.1h.7M310.2 109.2h.7M304.7 113.3h.7M308.8 115.2h.7M314.6 110.1h.7M314.1 106.0h.7M309.6 107.9h.7M305.7 110.1h.7M310.4 115.2h.7M296.9 107.6h.7M307.1 108.3h.7M312.8 111.5h.7M311.1 108.3h.7M313.1 111.3h.7M303.3 109.1h.7M305.2 105.7h.7M311.6 110.2h.7M311.5 106.8h.7M310.2 106.7h.7M312.6 112.5h.7M318.4 114.6h.7M307.6 108.4h.7M307.1 111.1h.7M319.3 112.6h.7M301.8 105.5h.7M305.6 111.9h.7M311.0 111.1h.7M318.5 107.0h.7M307.4 117.1h.7M312.4 107.2h.7M302.5 104.5h.7M300.7 110.2h.7M311.2 113.6h.7M310.4 107.5h.7M307.9 116.8h.7M303.6 110.6h.7M311.1 112.2h.7M309.3 111.8h.7M314.4 109.5h.7M309.1 109.3h.7M306.9 109.3h.7M309.7 110.8h.7M316.6 114.7h.7M309.1 112.2h.7M312.2 112.7h.7M311.1 111.0h.7M309.0 107.2h.7M314.7 114.7h.7M313.8 111.6h.7M312.1 108.4h.7M303.5 112.4h.7M311.8 108.0h.7M306.9 114.6h.7M303.4 116.3h.7M313.7 118.5h.7M308.0 109.9h.7M308.9 110.6h.7M310.1 107.3h.7M315.5 107.2h.7M308.9 112.0h.7M308.7 108.4h.7M312.5 108.7h.7M305.8 109.6h.7M310.1 116.1h.7M306.4 113.5h.7M307.7 108.7h.7M309.6 111.0h.7M314.6 116.3h.7M308.3 114.8h.7M315.2 112.9h.7M307.8 113.2h.7M310.5 111.3h.7M309.9 112.4h.7M315.7 114.1h.7M310.1 113.6h.7M317.1 106.6h.7M317.2 105.2h.7M313.3 112.1h.7M317.2 111.0h.7M309.0 107.1h.7M305.7 112.8h.7M310.0 107.4h.7M313.2 107.2h.7M309.2 108.3h.7M317.9 115.3h.7M310.3 104.3h.7M312.2 110.3h.7M312.5 112.0h.7M309.7 113.3h.7M314.5 110.8h.7M309.3 108.3h.7M313.9 106.0h.7M310.3 107.3h.7M305.1 112.2h.7M310.9 110.1h.7M314.7 104.6h.7M310.7 111.0h.7M314.5 106.1h.7M314.0 110.8h.7M316.7 114.1h.7M313.3 117.7h.7M311.0 108.5h.7M309.6 106.6h.7M310.9 103.2h.7M310.6 111.5h.7M315.2 108.7h.7M316.8 107.7h.7M310.4 103.2h.7M307.8 107.2h.7M317.1 111.9h.7M306.5 111.9h.7M313.0 109.2h.7M311.1 108.9h.7M308.8 103.8h.7M310.6 114.5h.7M316.9 109.0h.7M307.9 109.3h.7M314.7 111.2h.7M308.6 111.3h.7M310.2 111.8h.7M309.3 104.8h.7M311.2 112.7h.7M306.5 109.6h.7M314.6 108.7h.7M308.3 117.1h.7M314.4 113.6h.7M307.1 115.7h.7M304.2 108.2h.7M314.0 114.7h.7M307.2 107.7h.7M311.8 103.2h.7M313.6 112.0h.7M309.2 111.9h.7M314.2 111.1h.7M313.1 115.3h.7M309.1 110.6h.7M308.9 113.6h.7M309.3 111.7h.7M311.6 110.2h.7M318.0 109.7h.7M316.8 112.9h.7M316.4 109.4h.7M314.8 112.6h.7M308.5 110.9h.7M310.5 109.9h.7M316.3 107.5h.7M304.2 103.9h.7M309.2 107.8h.7M311.1 112.0h.7M318.1 111.1h.7M312.9 107.4h.7M313.4 114.7h.7M316.4 103.2h.7M314.6 115.5h.7M314.3 104.8h.7M309.8 112.0h.7M312.7 107.2h.7M307.4 113.4h.7M305.6 115.0h.7M311.1 111.0h.7M305.6 107.9h.7M313.8 104.9h.7M319.4 105.1h.7M306.1 110.1h.7M312.9 112.5h.7M309.5 109.3h.7M310.0 108.0h.7M300.6 113.3h.7M312.0 110.5h.7M308.5 110.9h.7M310.9 109.7h.7M315.5 104.0h.7M312.0 106.3h.7M309.7 115.2h.7M306.6 109.7h.7M308.6 113.3h.7M307.0 104.2h.7M313.1 108.8h.7M309.7 113.7h.7M307.4 108.7h.7M311.6 111.4h.7M308.9 113.6h.7M320.0 108.6h.7M318.5 102.7h.7M316.7 108.8h.7M311.6 108.8h.7M308.4 105.6h.7M309.4 114.5h.7M315.6 108.8h.7M308.9 107.6h.7M306.2 116.2h.7M313.7 110.4h.7M309.0 106.5h.7M316.3 112.7h.7M307.2 113.4h.7M306.5 112.2h.7M307.1 108.6h.7M313.0 111.5h.7M315.1 107.1h.7M317.4 114.6h.7M311.0 111.6h.7M307.9 109.5h.7M305.7 110.3h.7M311.8 114.6h.7M314.8 112.8h.7M309.5 109.2h.7M309.6 110.8h.7M303.2 112.7h.7M304.7 108.2h.7M311.1 108.2h.7M317.7 109.7h.7M317.3 114.1h.7M309.0 111.4h.7M316.2 108.8h.7M311.4 108.1h.7M311.2 108.8h.7M311.3 113.5h.7M316.6 110.5h.7M311.8 113.0h.7M309.8 106.3h.7M315.5 106.8h.7M314.8 106.7h.7M318.4 106.4h.7M314.4 115.2h.7M307.1 115.1h.7M307.7 103.9h.7M313.9 112.4h.7M310.2 101.3h.7M310.8 108.9h.7M309.5 109.0h.7M303.8 108.0h.7M318.3 115.3h.7M309.5 107.5h.7M312.6 113.7h.7M313.9 106.0h.7M311.7 110.5h.7M316.8 114.1h.7M313.1 114.2h.7M309.4 115.3h.7M309.3 111.4h.7M314.7 106.8h.7M308.2 103.9h.7M311.7 109.8h.7M309.7 111.7h.7M302.5 109.9h.7M311.4 109.1h.7M314.2 116.1h.7M309.2 106.8h.7M308.6 110.3h.7M313.4 107.0h.7M315.0 106.5h.7M314.3 111.5h.7M312.9 117.5h.7M309.9 109.4h.7M312.9 113.0h.7M305.6 111.0h.7M308.0 112.2h.7M316.5 110.2h.7M310.6 110.6h.7M299.1 112.7h.7M313.3 110.6h.7M309.4 107.5h.7M310.3 114.2h.7M310.6 114.7h.7M300.6 108.4h.7M312.1 110.0h.7M304.3 107.7h.7M316.0 105.5h.7M307.0 106.2h.7M308.8 112.2h.7M313.4 103.0h.7M316.9 108.0h.7M308.6 115.8h.7M310.7 105.7h.7M308.4 107.5h.7M306.9 108.8h.7M314.5 111.2h.7M305.4 119.6h.7M307.0 110.4h.7M311.1 112.6h.7M309.7 111.6h.7M319.5 110.3h.7M306.6 111.1h.7M307.8 108.7h.7M311.8 111.2h.7M309.9 112.9h.7M310.2 105.5h.7M314.5 108.7h.7M315.9 107.7h.7M313.3 111.1h.7M300.1 104.8h.7M306.5 114.9h.7M303.4 113.2h.7" stroke="#444" stroke-width="0.7" fill="none"/>
<path d="M317.9 120.7h.7M316.8 117.3h.7M315.0 119.8h.7M316.1 121.4h.7M314.4 116.6h.7M313.5 120.4h.7M310.5 114.8h.7M313.9 117.1h.7M314.3 110.1h.7M314.1 118.2h.7M317.1 112.3h.7M314.2 120.6h.7M316.3 123.0h.7M317.8 115.5h.7M316.7 117.9h.7M312.8 124.2h.7M313.3 116.1h.7M313.9 116.1h.7M317.7 120.3h.7M318.8 120.4h.7M313.3 122.5h.7M313.2 117.4h.7M314.5 119.1h.7M318.2 117.0h.7M315.9 118.9h.7M311.6 115.3h.7M314.4 120.4h.7M315.9 120.6h.7M315.1 117.5h.7M316.1 115.6h.7M311.4 117.9h.7M311.1 117.3h.7M313.0 117.1h.7M314.9 116.3h.7M313.9 113.2h.7M315.4 116.0h.7M316.1 109.5h.7M312.8 119.8h.7M308.4 117.8h.7M315.3 119.3h.7M311.0 119.8h.7M315.4 115.7h.7M317.0 118.8h.7M315.1 117.5h.7M316.5 119.3h.7M318.1 120.5h.7M313.3 118.2h.7M317.5 117.8h.7M316.0 120.8h.7M314.5 111.1h.7M315.4 119.7h.7M315.4 116.4h.7M318.3 118.5h.7M313.3 116.6h.7M316.0 115.3h.7M312.3 125.8h.7M318.5 122.6h.7M318.7 121.0h.7M310.4 123.0h.7M318.4 120.7h.7M309.7 123.2h.7M318.7 117.3h.7M315.3 121.6h.7M314.8 122.7h.7M315.2 121.3h.7M315.2 114.0h.7M312.3 129.7h.7M315.8 123.4h.7M318.1 124.8h.7M316.5 117.0h.7" stroke="#666" stroke-width="0.7" fill="none"/>
<path d="M316.0 124.1h.7M315.5 129.6h.7M310.5 128.2h.7M313.7 126.5h.7M311.3 125.8h.7M317.1 126.8h.7M321.5 122.9h.7M315.8 128.2h.7M321.7 128.1h.7M317.3 128.5h.7M315.5 127.0h.7M314.9 123.8h.7M316.7 127.7h.7M315.7 127.3h.7M314.1 127.8h.7M314.9 128.2h.7M323.9 128.6h.7M318.2 129.4h.7M317.8 129.4h.7M314.7 127.8h.7M314.2 129.7h.7M318.1 126.9h.7M319.1 125.6h.7M315.8 129.0h.7M315.9 128.6h.7M319.0 128.4h.7M313.2 129.2h.7M315.8 128.0h.7M314.6 125.1h.7M312.8 127.1h.7M313.3 122.5h.7M318.9 125.5h.7M314.2 128.8h.7M314.1 129.1h.7M314.8 128.4h.7M316.3 127.8h.7M311.4 124.9h.7M314.6 128.8h.7M316.4 128.7h.7M318.5 124.9h.7M316.7 127.5h.7M315.2 126.1h.7M314.0 125.8h.7M320.3 127.8h.7M317.9 125.9h.7M309.0 124.2h.7M315.9 125.8h.7M315.4 125.9h.7M312.5 127.3h.7M315.0 126.2h.7M313.8 126.0h.7M311.9 128.3h.7M313.1 127.5h.7M316.3 128.9h.7M318.9 126.7h.7M312.9 127.4h.7M316.7 126.4h.7M312.4 128.5h.7M318.6 124.1h.7M316.5 127.4h.7M316.6 126.9h.7M317.1 129.1h.7M317.9 128.9h.7M317.0 125.5h.7M314.9 128.1h.7M315.0 125.7h.7M311.4 128.3h.7M316.1 126.7h.7M314.9 126.1h.7M314.1 127.6h.7M314.4 129.1h.7M315.6 128.1h.7M317.5 128.2h.7M315.6 126.2h.7M315.1 129.1h.7M316.6 127.0h.7M312.6 124.8h.7M316.8 129.8h.7M316.9 125.1h.7M315.5 128.2h.7M313.7 128.5h.7M315.5 126.2h.7M312.9 129.4h.7M316.9 126.1h.7M313.4 129.5h.7M317.5 127.2h.7M320.0 127.2h.7M313.3 129.9h.7M315.5 128.5h.7M316.1 125.8h.7M313.0 127.4h.7M319.6 125.8h.7M319.4 128.2h.7M313.2 128.3h.7M317.4 126.0h.7M310.6 128.5h.7M313.2 128.7h.7M311.2 127.5h.7M314.0 124.9h.7M315.4 128.1h.7M314.6 125.5h.7M316.5 124.4h.7M317.4 128.8h.7M320.2 129.5h.7M316.9 128.3h.7M316.1 125.2h.7M319.7 128.8h.7M315.3 125.6h.7M319.8 128.8h.7" stroke="#333" stroke-width="0.7" fill="none"/>
<path d="M308.8 94.6h.7M332.7 89.8h.7M321.1 87.2h.7M313.1 97.3h.7M317.0 95.4h.7M315.6 95.0h.7M324.4 83.1h.7M309.7 89.5h.7M324.5 91.9h.7M327.6 80.6h.7M321.8 85.8h.7M318.8 92.2h.7M310.5 88.4h.7M309.0 91.8h.7M311.4 86.6h.7M319.7 85.6h.7M326.9 85.7h.7M324.6 91.9h.7M310.0 88.5h.7M311.5 87.5h.7M315.9 102.3h.7M314.7 100.6h.7M321.5 81.1h.7M300.1 94.6h.7M302.6 94.9h.7M326.0 92.6h.7M316.4 88.3h.7M320.0 87.9h.7M313.9 87.5h.7M327.1 85.8h.7M320.9 82.2h.7M312.5 80.7h.7M316.5 94.6h.7M320.4 86.7h.7M322.7 87.6h.7M320.9 91.9h.7M307.9 95.2h.7M317.2 105.2h.7M316.2 86.3h.7M329.6 93.8h.7M332.7 93.5h.7M316.4 94.9h.7M311.9 87.0h.7" stroke="#999" stroke-width="0.7" fill="none"/>
<path d="M295.6 111.9h.7M311.0 110.7h.7M305.7 110.6h.7M312.3 99.7h.7M299.6 113.8h.7M289.5 117.9h.7M304.5 119.2h.7M313.2 116.1h.7M300.3 107.7h.7M299.4 110.8h.7M304.9 110.8h.7M315.6 110.7h.7M299.2 117.5h.7M302.0 107.1h.7M306.8 112.1h.7M289.8 109.4h.7M307.6 114.4h.7M298.6 123.5h.7M306.9 110.0h.7M304.7 112.4h.7M285.9 123.0h.7M299.9 111.7h.7M295.5 117.7h.7M302.3 121.2h.7M311.1 120.9h.7M300.6 114.8h.7M297.0 112.2h.7M282.0 110.2h.7M291.0 109.9h.7M316.1 114.3h.7M316.2 117.1h.7M312.6 117.8h.7M295.0 116.9h.7M298.3 110.4h.7M315.8 123.4h.7M290.7 121.4h.7M311.6 108.9h.7M305.2 114.8h.7M306.3 111.3h.7M287.1 113.2h.7M312.0 116.8h.7M309.6 118.3h.7M290.5 112.8h.7M305.9 117.8h.7M303.8 115.5h.7M303.5 123.1h.7M330.6 114.1h.7M280.8 113.6h.7M285.4 109.7h.7M304.6 121.3h.7M307.3 116.2h.7M313.8 114.0h.7M292.1 112.5h.7M305.9 111.7h.7M294.3 111.3h.7M284.6 108.1h.7" stroke="#999" stroke-width="0.7" fill="none"/>
<path d="M318.4 123.5h.7M293.3 127.8h.7M333.1 123.3h.7M313.4 128.5h.7M324.0 125.7h.7M323.8 126.7h.7M329.7 123.1h.7M330.8 126.3h.7M302.0 123.7h.7M293.2 128.9h.7M316.7 124.2h.7M298.6 124.1h.7M290.7 124.8h.7M297.9 130.8h.7M333.9 129.3h.7M305.9 127.0h.7M322.1 130.3h.7M320.6 128.1h.7M290.7 128.0h.7M325.7 129.3h.7M285.0 128.7h.7M298.9 124.3h.7M332.2 128.4h.7M320.3 124.1h.7M324.7 130.5h.7" stroke="#999" stroke-width="0.7" fill="none"/>
<path d="M380.8 109.1h.7M379.2 107.5h.7M373.3 111.6h.7M378.9 107.6h.7M378.2 110.6h.7M380.2 111.2h.7M377.8 112.0h.7M382.0 110.7h.7M376.2 118.6h.7M376.5 114.8h.7M374.0 113.8h.7M369.1 114.5h.7M374.2 108.8h.7M371.8 117.0h.7M377.7 108.1h.7M382.1 109.7h.7M375.1 113.7h.7M372.7 108.8h.7M373.9 116.7h.7M379.3 107.6h.7M380.1 112.2h.7M377.9 112.7h.7M377.6 109.6h.7M373.4 111.3h.7M375.1 114.8h.7M372.4 118.2h.7M374.3 111.5h.7M378.5 113.6h.7M375.2 109.9h.7M373.1 108.7h.7M379.9 115.3h.7M382.2 113.1h.7M377.4 114.8h.7M379.3 111.5h.7M377.4 118.9h.7M370.9 109.7h.7M373.2 115.6h.7M380.1 111.1h.7M378.4 112.3h.7M377.3 111.0h.7M376.2 112.8h.7M379.9 118.7h.7M370.5 115.4h.7M376.3 115.6h.7M379.7 114.4h.7M378.9 109.5h.7M370.9 118.7h.7M380.1 109.3h.7M380.4 114.0h.7M368.5 116.9h.7M373.2 116.8h.7M374.1 111.0h.7M371.4 113.1h.7M379.5 110.2h.7M370.4 120.2h.7M382.2 113.7h.7M374.6 109.6h.7M371.1 115.4h.7M380.4 108.9h.7M376.3 112.0h.7M375.5 114.4h.7M383.0 109.7h.7M379.0 115.5h.7M375.4 112.5h.7M372.0 116.8h.7M374.6 111.2h.7M376.5 110.2h.7M373.0 112.6h.7M381.0 111.3h.7M378.0 108.2h.7M370.1 119.3h.7M375.0 108.5h.7M376.0 114.6h.7M370.8 111.2h.7M377.1 109.9h.7M378.8 115.1h.7M377.7 111.3h.7M376.2 111.0h.7M375.9 113.8h.7M375.3 115.8h.7M384.6 109.6h.7M377.4 115.0h.7M378.4 111.7h.7M374.8 116.0h.7M378.3 113.9h.7M373.7 115.1h.7M378.8 111.8h.7M378.4 118.8h.7M370.3 115.7h.7M372.6 109.5h.7M375.5 114.5h.7M376.5 109.3h.7M371.7 112.0h.7M376.3 110.4h.7M371.5 118.9h.7M373.6 112.8h.7M374.6 111.4h.7M376.4 111.9h.7M378.3 108.9h.7M371.6 119.4h.7M376.1 115.1h.7M380.1 113.7h.7M376.4 108.2h.7M371.2 116.6h.7M378.5 114.1h.7M371.0 107.5h.7M372.9 110.0h.7M376.8 109.7h.7M381.4 110.0h.7M374.5 115.7h.7M377.4 110.0h.7M378.9 118.0h.7M372.4 112.8h.7M372.9 107.7h.7M378.3 114.5h.7M379.4 113.5h.7M369.9 113.9h.7M374.2 109.7h.7M372.8 115.7h.7M375.4 118.8h.7M377.8 106.9h.7M379.2 115.9h.7M376.4 109.2h.7M382.0 107.9h.7M376.0 107.2h.7M372.3 108.5h.7M379.8 115.6h.7M375.0 109.0h.7M376.1 114.0h.7M371.4 110.3h.7M376.0 114.9h.7M376.5 114.1h.7M372.3 106.2h.7M377.3 109.9h.7M375.9 111.8h.7M377.8 110.2h.7M380.9 112.0h.7M378.0 114.3h.7M379.6 113.4h.7M370.7 112.0h.7M382.3 113.1h.7M378.1 113.8h.7M374.2 111.2h.7M374.2 116.6h.7M377.5 117.9h.7M377.9 118.1h.7M377.8 109.0h.7M381.9 112.7h.7M380.1 112.7h.7M375.2 113.5h.7M372.7 109.9h.7M373.4 111.8h.7M371.9 113.3h.7M377.3 118.7h.7M382.3 111.5h.7M379.2 111.6h.7M377.6 112.5h.7M374.5 113.4h.7M371.5 115.0h.7M375.4 109.7h.7M375.1 114.7h.7M374.1 114.6h.7M378.1 117.1h.7M372.8 113.1h.7M378.0 117.0h.7M377.2 114.9h.7M371.5 112.0h.7M381.7 110.9h.7M383.3 109.3h.7M375.4 108.2h.7M378.4 113.2h.7M382.9 112.1h.7M375.5 108.7h.7M376.0 115.7h.7M378.7 116.0h.7M379.1 112.1h.7M378.3 112.9h.7M372.0 118.7h.7M377.5 109.4h.7M377.6 113.4h.7M379.5 116.5h.7M366.4 116.3h.7M381.3 109.0h.7M370.2 114.8h.7M377.4 113.6h.7M372.7 112.1h.7M376.9 114.9h.7M383.5 112.3h.7M374.3 106.1h.7M379.8 111.7h.7M375.9 109.9h.7M378.7 107.0h.7M376.7 113.1h.7M377.3 116.5h.7M376.0 113.1h.7M379.1 107.6h.7M375.3 113.2h.7M379.4 109.8h.7M378.9 113.5h.7M371.4 109.3h.7M371.6 114.1h.7M377.0 114.9h.7M379.0 110.6h.7M379.8 114.6h.7M377.8 114.0h.7M372.1 114.7h.7M372.9 109.8h.7M375.2 113.4h.7M376.1 111.8h.7M373.0 114.0h.7M373.9 109.0h.7M376.6 117.1h.7M375.0 109.8h.7M380.8 117.1h.7M375.3 112.3h.7M377.0 121.6h.7M376.7 115.7h.7M377.8 107.0h.7M372.7 109.8h.7M377.7 112.9h.7M382.2 110.9h.7M377.3 112.8h.7M376.8 119.7h.7M377.2 117.1h.7M380.6 110.2h.7M378.6 111.2h.7M376.7 113.2h.7M376.4 111.4h.7M381.4 111.0h.7M378.6 117.4h.7M378.4 115.5h.7M380.9 115.2h.7M382.0 107.4h.7M382.7 111.7h.7M370.5 111.9h.7M371.7 113.6h.7M371.4 110.7h.7M377.3 113.1h.7M373.7 112.6h.7M376.0 113.1h.7M376.3 112.1h.7M379.2 107.4h.7M374.7 113.5h.7M375.0 111.4h.7M374.9 113.7h.7M380.4 111.5h.7M375.4 114.0h.7M375.5 107.1h.7M377.2 111.5h.7M374.4 115.1h.7M376.4 111.1h.7M369.1 108.9h.7M376.3 112.4h.7M377.7 113.2h.7M374.7 109.3h.7M372.7 113.1h.7M372.5 115.8h.7M371.9 108.2h.7M375.7 107.5h.7M381.7 108.8h.7M376.1 112.1h.7M373.6 107.9h.7M370.2 116.6h.7M379.7 118.7h.7M371.5 115.4h.7M376.3 115.4h.7M374.6 115.3h.7M379.3 114.1h.7M381.1 111.4h.7M381.4 109.7h.7M381.8 103.4h.7M376.3 110.4h.7M376.3 115.9h.7M378.7 112.6h.7M381.9 107.3h.7M373.6 117.9h.7M377.4 106.3h.7M377.4 109.0h.7M381.2 115.4h.7M374.5 117.1h.7M373.5 116.1h.7M378.2 112.1h.7M371.6 112.8h.7M368.7 112.5h.7M370.2 117.6h.7M373.1 106.0h.7M378.2 113.6h.7M374.6 119.5h.7M378.9 112.5h.7M374.2 104.2h.7M377.9 115.4h.7M374.3 108.9h.7M376.2 107.7h.7M376.3 115.1h.7M381.3 112.7h.7M376.9 115.0h.7M380.9 111.0h.7M372.2 111.2h.7M372.1 110.9h.7M375.9 113.9h.7M376.8 112.9h.7M375.1 114.3h.7M379.2 114.6h.7M381.2 111.0h.7M375.5 118.1h.7M377.0 113.9h.7M375.2 116.0h.7M375.0 110.0h.7M376.1 111.5h.7M379.1 111.1h.7M376.7 112.1h.7M377.4 110.7h.7M379.9 107.8h.7M375.0 110.9h.7M378.4 112.5h.7M377.9 111.5h.7M373.9 109.8h.7M375.2 111.4h.7M377.2 113.7h.7M379.5 111.9h.7M373.8 110.0h.7M376.5 113.9h.7M382.7 112.1h.7M382.1 117.4h.7M372.8 117.1h.7M380.1 116.2h.7M376.3 115.7h.7M374.7 112.9h.7M376.4 118.2h.7M375.6 115.8h.7M376.5 110.6h.7M377.1 114.7h.7M374.0 115.2h.7M373.9 110.6h.7M377.0 111.9h.7M373.1 108.5h.7M376.4 113.5h.7M374.8 113.7h.7M371.3 114.9h.7M377.7 113.4h.7M374.3 113.4h.7M376.7 116.0h.7M377.2 113.4h.7M373.9 115.9h.7M380.2 110.6h.7M378.4 113.3h.7M376.1 108.9h.7M382.1 106.0h.7M377.3 111.5h.7M380.1 110.8h.7M376.4 114.6h.7M377.8 110.9h.7M378.5 113.6h.7M379.6 110.6h.7M376.1 111.6h.7M373.5 114.1h.7M377.6 116.9h.7M375.2 114.2h.7M380.1 111.7h.7M376.5 113.2h.7M374.0 110.2h.7M380.0 112.6h.7M376.1 109.1h.7M376.7 116.3h.7M372.5 110.8h.7M379.9 116.4h.7M381.4 110.2h.7M378.3 110.2h.7M378.0 111.4h.7M376.9 116.7h.7M377.4 111.9h.7M376.5 113.6h.7M374.6 113.7h.7M378.3 117.1h.7M369.5 110.5h.7M372.2 116.2h.7M384.3 111.9h.7M376.7 116.2h.7M368.3 113.8h.7M366.1 115.2h.7M374.6 111.6h.7M377.4 110.8h.7M379.9 112.1h.7M377.5 120.2h.7M374.8 115.9h.7M373.6 117.1h.7M379.5 112.6h.7M379.5 117.0h.7M380.8 112.0h.7M376.1 116.2h.7M371.5 111.9h.7M377.9 114.2h.7M382.4 117.0h.7M377.4 113.9h.7M372.0 113.1h.7M377.2 112.0h.7M376.5 114.6h.7M373.2 111.7h.7M370.5 117.3h.7M372.9 108.3h.7M378.8 111.7h.7M379.5 111.1h.7M383.2 113.6h.7M376.8 113.1h.7M375.6 115.4h.7M382.8 110.3h.7M372.7 115.3h.7M379.8 107.7h.7M374.0 110.2h.7M378.1 114.0h.7M373.9 109.9h.7M378.5 106.2h.7M378.4 111.9h.7M382.6 114.6h.7M374.4 112.3h.7M375.4 110.8h.7M376.6 115.6h.7M371.4 113.0h.7M381.2 114.1h.7M373.7 110.9h.7M373.5 108.5h.7M380.0 112.3h.7M374.0 108.9h.7M375.1 111.5h.7M381.9 110.4h.7M376.7 115.9h.7M378.5 111.9h.7M369.2 118.3h.7M378.2 111.1h.7M376.0 110.0h.7M373.4 108.9h.7M377.9 114.0h.7M376.9 115.0h.7M378.0 112.8h.7M373.4 115.1h.7M380.2 114.0h.7M380.3 110.6h.7M373.1 117.1h.7M374.4 113.9h.7M375.7 113.0h.7M375.4 111.4h.7M370.5 119.6h.7M377.0 106.9h.7M373.4 110.0h.7M373.9 105.7h.7M378.2 117.3h.7M375.5 115.2h.7M378.2 108.7h.7M380.2 107.0h.7M374.4 112.1h.7M380.4 112.4h.7M375.9 110.5h.7M376.6 112.9h.7M378.7 116.5h.7M378.7 112.4h.7M375.8 117.7h.7M376.9 112.6h.7M382.1 116.4h.7M378.1 112.1h.7M374.3 116.4h.7M374.8 115.9h.7M373.8 113.6h.7M377.6 113.0h.7M377.1 113.8h.7M372.7 110.2h.7M375.8 118.3h.7M375.9 110.1h.7M374.2 113.3h.7M380.1 110.4h.7M378.1 113.0h.7M375.2 110.2h.7M375.8 110.7h.7M378.0 107.2h.7M379.9 114.4h.7M378.2 116.9h.7M378.2 107.4h.7M376.5 114.1h.7M374.1 109.9h.7M377.7 114.1h.7M374.9 112.3h.7M374.7 111.4h.7M376.1 116.0h.7M371.1 112.8h.7M381.5 112.8h.7M376.8 115.2h.7M373.1 109.8h.7M371.0 109.5h.7M377.1 115.2h.7M375.0 111.0h.7M377.6 114.4h.7M377.1 107.0h.7M374.5 105.6h.7M377.1 110.1h.7M374.2 117.6h.7M380.5 113.4h.7M377.2 113.1h.7M374.4 113.0h.7M382.4 109.1h.7M374.2 113.7h.7M379.2 114.7h.7M373.2 113.0h.7M375.4 109.3h.7M376.5 111.3h.7M379.3 113.5h.7M373.8 113.5h.7M375.2 111.1h.7M374.7 116.2h.7M375.0 108.0h.7M373.8 115.7h.7M383.2 108.4h.7M375.2 112.0h.7M371.8 114.8h.7M376.1 113.7h.7M383.5 110.7h.7M378.8 114.8h.7M374.3 111.4h.7M381.3 114.0h.7M376.8 109.5h.7M379.1 113.8h.7M383.4 115.8h.7M378.9 113.1h.7M376.5 111.1h.7M377.3 113.3h.7M378.4 115.6h.7M377.3 111.0h.7M378.9 116.9h.7M373.6 114.5h.7M378.1 114.1h.7M377.9 112.2h.7M376.0 117.8h.7M381.9 107.6h.7M368.2 115.6h.7M374.1 111.7h.7M371.2 114.8h.7M376.1 111.2h.7M379.2 119.4h.7M381.0 115.4h.7M375.0 115.0h.7M376.2 116.2h.7M378.2 112.3h.7M378.1 110.3h.7M378.8 116.8h.7M375.1 114.7h.7M371.0 116.6h.7M379.1 109.3h.7M381.9 112.1h.7M370.8 109.8h.7M379.1 111.5h.7M379.8 107.6h.7M376.0 115.7h.7M374.1 115.2h.7M375.1 114.0h.7M377.3 119.2h.7M372.3 115.8h.7M380.5 108.7h.7M376.6 119.6h.7M379.7 103.4h.7M375.5 107.9h.7M377.3 110.5h.7M374.5 110.7h.7M377.2 111.2h.7M373.4 112.7h.7M377.6 110.0h.7M379.9 107.2h.7M377.6 111.4h.7M381.3 110.0h.7M374.2 109.2h.7M382.7 113.4h.7M372.8 112.5h.7M373.2 117.9h.7M377.6 106.5h.7M377.0 115.4h.7M376.3 114.2h.7M375.9 113.5h.7M377.0 110.6h.7M377.4 113.1h.7M376.2 110.8h.7M373.0 114.1h.7M378.9 105.2h.7M374.6 117.1h.7M379.2 110.1h.7M380.6 109.1h.7M373.8 119.0h.7M374.9 112.4h.7M371.0 110.8h.7M372.5 113.1h.7M370.4 117.0h.7M375.2 111.2h.7M374.3 115.4h.7M381.2 110.7h.7M381.5 116.6h.7M380.6 112.9h.7M371.5 115.7h.7M375.0 113.6h.7M370.3 113.1h.7M377.0 109.9h.7M377.2 117.6h.7M377.0 110.6h.7M384.0 105.0h.7M373.3 114.6h.7M374.4 106.4h.7M377.1 115.1h.7M373.7 117.6h.7M377.9 116.0h.7M371.4 113.7h.7M381.4 117.8h.7M380.5 112.0h.7M376.9 110.8h.7M379.8 110.1h.7M376.7 106.6h.7M371.5 119.0h.7M376.5 113.4h.7M369.2 114.0h.7M383.0 107.1h.7M368.7 113.8h.7M374.6 112.5h.7M372.3 109.5h.7M372.3 115.4h.7M376.1 115.3h.7M372.8 115.2h.7M374.9 113.3h.7M379.3 112.3h.7M375.2 108.1h.7M376.5 115.1h.7M374.3 113.0h.7M370.6 109.9h.7M377.6 116.4h.7M375.3 108.0h.7M375.1 108.4h.7M375.4 118.7h.7M377.3 112.2h.7M379.7 111.0h.7M377.4 113.2h.7M377.7 108.2h.7M378.6 115.0h.7M368.9 106.1h.7M373.4 117.8h.7M376.4 114.8h.7M378.1 115.1h.7M374.2 111.4h.7M377.5 114.4h.7M378.2 113.5h.7M374.7 116.4h.7M377.8 115.7h.7M368.1 117.4h.7M368.4 114.9h.7M374.1 113.6h.7M374.8 112.2h.7M376.9 113.7h.7M373.7 105.7h.7M373.8 114.9h.7M373.6 114.6h.7M375.1 110.2h.7M380.1 117.0h.7M376.0 112.7h.7M379.4 108.2h.7M373.5 116.7h.7M379.2 110.8h.7M373.8 114.3h.7M371.7 112.2h.7M375.5 105.6h.7M378.2 114.7h.7M379.8 107.8h.7M372.1 111.1h.7M372.0 119.8h.7M373.1 112.5h.7M377.0 114.0h.7M381.0 108.6h.7M379.2 112.7h.7M372.5 114.0h.7M371.7 118.5h.7M373.9 116.3h.7M380.6 110.1h.7M373.4 113.7h.7M372.9 116.2h.7M376.9 110.4h.7M374.1 115.4h.7M371.6 118.8h.7M373.7 112.7h.7M373.3 118.3h.7M379.0 116.2h.7M378.4 112.7h.7M381.9 113.8h.7M377.7 114.3h.7M378.7 113.2h.7M375.8 108.1h.7M383.1 107.6h.7M369.2 112.0h.7M382.7 115.3h.7M374.3 114.0h.7M376.2 106.8h.7M375.2 113.9h.7M380.2 108.4h.7M368.9 109.4h.7M377.4 112.8h.7M376.8 113.2h.7M375.1 108.9h.7M377.8 113.7h.7M378.2 116.2h.7M372.2 106.5h.7M370.4 120.4h.7M373.3 114.6h.7M376.3 115.0h.7M386.9 109.2h.7M375.7 111.1h.7M377.1 114.2h.7M373.1 117.4h.7M380.1 113.4h.7M375.9 112.1h.7M370.9 115.8h.7M373.1 111.9h.7M379.6 109.4h.7M374.6 115.7h.7M382.4 109.6h.7M379.9 110.1h.7M377.6 114.0h.7M372.5 116.6h.7M382.2 111.8h.7M377.2 109.1h.7M382.2 111.9h.7M372.1 115.9h.7M371.5 111.6h.7M369.3 118.3h.7M383.6 109.5h.7M374.1 111.5h.7M374.4 114.8h.7M381.1 108.8h.7M377.8 107.1h.7M381.3 111.6h.7M374.0 117.9h.7M376.0 117.0h.7M379.8 117.2h.7M373.7 113.5h.7M377.5 112.0h.7M381.3 109.7h.7M379.6 116.3h.7M369.9 111.1h.7M373.3 111.7h.7M377.6 112.0h.7M376.6 111.4h.7M376.0 114.3h.7M378.8 110.0h.7M375.9 110.6h.7M375.7 108.6h.7M379.4 114.2h.7M375.9 110.8h.7M374.8 111.1h.7M371.2 118.7h.7M387.2 107.0h.7M372.4 115.3h.7M378.3 107.6h.7M370.0 115.6h.7M369.7 118.4h.7M374.7 113.4h.7M376.3 111.1h.7M375.8 112.0h.7M380.4 111.7h.7M376.2 111.2h.7M374.2 111.0h.7M376.3 118.4h.7M380.0 112.8h.7M381.8 114.8h.7M377.0 112.2h.7M372.7 114.2h.7M375.3 108.2h.7M372.1 119.5h.7M377.0 114.2h.7M377.0 111.3h.7M377.8 115.8h.7M375.3 114.5h.7M379.7 110.7h.7M376.9 110.4h.7M378.3 111.3h.7M380.1 109.8h.7M381.9 110.8h.7M373.5 110.6h.7M378.5 109.8h.7M382.3 115.6h.7M378.0 108.2h.7M376.2 110.6h.7M370.3 115.2h.7M383.6 109.8h.7M379.0 116.2h.7M373.1 112.4h.7M377.2 114.1h.7M372.5 114.2h.7M375.9 115.8h.7M371.0 112.1h.7M374.6 112.2h.7M378.7 110.4h.7M385.3 109.0h.7M379.1 115.4h.7M379.5 111.6h.7M373.6 112.5h.7M378.5 112.8h.7M378.2 114.2h.7M373.4 110.5h.7M381.1 110.4h.7M371.1 119.4h.7M373.5 110.5h.7" stroke="#222" stroke-width="0.7" fill="none"/>
<path d="M383.8 104.6h.7M374.6 115.9h.7M374.9 120.8h.7M379.5 119.6h.7M379.6 110.4h.7M375.8 111.0h.7M376.5 111.4h.7M382.9 104.6h.7M374.4 105.1h.7M386.5 107.2h.7M378.9 110.3h.7M384.0 109.6h.7M383.3 108.2h.7M378.4 110.5h.7M369.7 118.0h.7M371.1 110.2h.7M382.4 109.3h.7M383.1 114.8h.7M388.3 111.6h.7M377.9 118.0h.7M374.6 112.0h.7M384.0 107.8h.7M378.4 109.5h.7M385.8 99.2h.7M385.4 111.6h.7M378.6 112.6h.7M374.2 116.3h.7M394.3 101.2h.7M386.0 107.5h.7M377.3 109.5h.7M378.1 106.5h.7M372.2 119.0h.7M378.9 112.4h.7M380.6 111.5h.7M371.4 110.3h.7M382.2 112.7h.7M373.3 110.8h.7M373.7 114.9h.7M380.7 109.9h.7M375.8 113.0h.7M379.2 107.9h.7M380.7 107.5h.7M383.8 110.8h.7M375.6 113.9h.7M379.3 107.9h.7M374.4 106.6h.7M373.3 114.0h.7M385.0 105.9h.7M379.8 111.4h.7M382.9 110.5h.7M385.1 110.7h.7M375.2 113.4h.7M367.3 114.6h.7M379.1 112.5h.7M377.5 114.0h.7M385.6 105.0h.7M376.3 112.5h.7M381.5 110.0h.7M383.2 104.7h.7M382.9 113.0h.7M384.6 109.8h.7M377.8 112.4h.7M378.6 105.2h.7M376.0 111.6h.7M376.4 108.3h.7M377.8 109.7h.7M379.3 110.2h.7M379.9 113.6h.7M379.7 111.6h.7M372.9 102.7h.7M377.0 113.6h.7M377.3 109.0h.7M372.8 116.1h.7M376.4 112.4h.7M384.7 110.1h.7M390.2 105.6h.7M383.8 111.0h.7M375.7 112.0h.7M376.2 108.1h.7M380.5 107.2h.7M387.4 104.6h.7M376.3 111.9h.7M376.4 111.7h.7M376.0 106.8h.7M366.9 110.9h.7M386.6 109.0h.7M379.8 108.6h.7M378.3 111.8h.7M372.1 110.5h.7M374.5 116.6h.7M373.7 116.7h.7M376.7 120.9h.7M378.6 110.8h.7M385.8 110.8h.7M383.7 104.9h.7M384.7 114.0h.7M378.5 109.0h.7M373.5 116.2h.7M380.5 109.9h.7M372.8 118.6h.7M383.4 108.7h.7M386.4 104.3h.7M383.4 105.3h.7M386.1 106.7h.7M385.1 106.6h.7M381.0 113.7h.7M374.5 112.6h.7M374.8 115.1h.7M376.0 110.4h.7M378.0 114.9h.7M373.8 112.5h.7M377.4 109.3h.7M375.1 111.5h.7M380.0 104.7h.7M380.2 105.9h.7M379.1 118.4h.7M374.2 112.2h.7M377.7 114.4h.7M376.6 105.3h.7M370.9 114.3h.7M380.3 113.7h.7M376.3 113.9h.7M373.7 117.1h.7M378.6 108.3h.7M379.9 116.2h.7M374.8 107.9h.7M373.9 108.5h.7M378.7 111.8h.7M378.2 111.5h.7M384.9 107.1h.7M372.7 105.1h.7M380.2 107.7h.7M377.8 112.4h.7M381.3 104.1h.7M374.2 112.7h.7M378.3 114.8h.7M376.5 104.4h.7M384.9 102.5h.7M374.1 113.8h.7M373.7 121.2h.7M380.2 111.9h.7M376.8 119.1h.7M381.7 106.9h.7M385.3 102.1h.7M376.1 112.7h.7M379.7 106.9h.7M386.9 112.4h.7M374.3 113.7h.7M375.8 110.3h.7M383.9 109.0h.7M378.5 111.1h.7M373.1 117.1h.7M375.2 116.5h.7M376.7 109.8h.7M386.4 108.2h.7M375.8 109.9h.7M382.0 115.8h.7M382.1 107.9h.7M373.4 110.4h.7M378.4 111.6h.7M375.7 116.2h.7M374.2 109.9h.7M381.5 111.2h.7M377.0 114.6h.7M372.0 119.0h.7M389.9 112.9h.7M379.6 117.1h.7M379.3 115.0h.7M378.0 111.6h.7M381.6 103.4h.7M378.0 116.9h.7M364.4 117.7h.7M383.6 109.8h.7M380.0 114.9h.7M380.7 103.3h.7M374.3 111.4h.7M379.7 108.7h.7M378.5 116.5h.7M364.3 120.4h.7M383.7 110.7h.7M379.1 110.7h.7M380.8 110.6h.7M375.4 114.7h.7M374.9 112.0h.7M377.2 107.2h.7M382.0 109.0h.7M373.2 112.6h.7M372.1 118.2h.7M381.6 116.3h.7M376.2 114.1h.7M374.2 109.5h.7M378.6 112.1h.7M383.6 107.7h.7M384.5 111.6h.7M374.6 111.6h.7M374.4 118.2h.7M376.3 114.7h.7M383.6 107.8h.7M376.6 112.7h.7M375.1 107.7h.7" stroke="#666" stroke-width="0.7" fill="none"/>
<path d="M353.3 118.5h.7M363.7 124.9h.7M345.6 119.3h.7M351.7 122.2h.7M368.2 117.6h.7M375.2 115.3h.7M357.3 112.3h.7M356.1 117.5h.7M368.0 122.7h.7M359.6 113.7h.7M359.0 115.1h.7M357.8 115.2h.7M354.2 116.8h.7M357.4 116.2h.7M349.6 117.6h.7M367.1 119.9h.7M357.1 111.9h.7M350.4 111.8h.7M356.3 115.6h.7M346.1 120.0h.7M348.2 113.9h.7M355.6 120.7h.7M378.4 115.4h.7M359.6 115.3h.7M360.2 116.2h.7M384.0 112.1h.7M361.0 113.5h.7M365.2 114.7h.7M367.1 112.2h.7M380.8 117.9h.7M346.2 120.1h.7M357.8 111.9h.7M365.9 114.7h.7M368.6 114.6h.7M370.0 117.7h.7M365.2 117.7h.7M358.8 115.4h.7M366.0 120.2h.7M358.4 127.0h.7M377.1 111.9h.7M371.7 116.7h.7M364.1 113.5h.7M376.7 113.3h.7M361.3 113.8h.7M379.2 122.6h.7M350.3 115.0h.7M365.2 115.1h.7M358.9 112.2h.7M364.2 112.2h.7M369.4 127.6h.7M359.1 124.3h.7M365.3 114.0h.7M358.9 112.7h.7M363.0 120.1h.7M370.3 115.8h.7M351.4 116.7h.7M376.9 118.3h.7M361.4 107.8h.7M358.2 119.4h.7M353.6 123.0h.7M357.0 113.2h.7M356.9 116.6h.7M370.9 114.5h.7M346.2 116.7h.7M366.6 123.8h.7M352.0 123.6h.7M368.0 119.0h.7M355.2 113.1h.7M353.5 121.1h.7M363.9 121.7h.7M378.1 117.1h.7M361.6 125.5h.7M350.4 115.0h.7M358.7 115.3h.7M363.3 113.3h.7M372.3 111.0h.7M354.8 109.6h.7M349.6 119.6h.7M367.6 116.1h.7M369.5 119.7h.7M356.9 116.8h.7M365.3 125.9h.7M358.1 118.7h.7M366.8 122.4h.7M365.8 121.7h.7M352.6 115.9h.7M382.6 118.1h.7M362.8 118.2h.7M363.3 111.2h.7M355.9 116.3h.7M363.5 113.2h.7M361.1 113.8h.7M350.3 114.1h.7M354.9 120.7h.7M373.9 119.6h.7M360.1 114.6h.7M348.1 114.7h.7M375.8 122.1h.7M364.0 115.9h.7M362.0 118.9h.7M361.9 118.9h.7M355.2 117.2h.7M358.9 121.8h.7M351.0 122.7h.7M361.2 114.8h.7M362.2 117.6h.7M359.9 118.9h.7M356.9 109.6h.7M368.2 116.9h.7M376.7 118.7h.7M355.9 119.4h.7M381.6 121.8h.7M352.3 116.6h.7M347.8 120.0h.7M367.0 112.5h.7M366.0 121.1h.7M369.1 114.1h.7M355.9 112.1h.7M350.6 118.4h.7M362.4 122.7h.7M364.4 115.6h.7M349.4 123.8h.7M363.5 116.9h.7M353.1 112.4h.7M367.6 112.8h.7M367.2 119.8h.7M358.6 109.9h.7M365.6 123.2h.7M354.7 111.5h.7M371.6 117.7h.7M356.5 122.4h.7M359.6 119.0h.7M358.4 113.8h.7M363.9 113.3h.7M346.3 114.7h.7M372.9 121.8h.7M381.2 121.4h.7M376.3 118.1h.7M358.2 119.1h.7M353.6 120.3h.7M358.0 118.2h.7M354.5 116.5h.7M370.7 116.1h.7M356.1 118.3h.7M369.8 116.2h.7M351.7 110.2h.7M350.2 121.7h.7M361.2 119.1h.7M371.5 118.3h.7M366.3 114.8h.7M347.8 119.8h.7M361.2 119.6h.7M352.6 116.4h.7M379.8 113.4h.7M362.9 122.8h.7M360.0 117.6h.7M358.1 122.7h.7M361.2 115.4h.7M365.8 116.0h.7M357.5 123.8h.7M370.7 117.5h.7M369.1 120.6h.7M367.1 117.3h.7M362.6 118.8h.7M367.0 118.6h.7M357.1 116.7h.7M366.0 112.8h.7M361.9 120.3h.7M363.5 115.8h.7M361.8 115.0h.7M370.7 115.4h.7M347.3 111.8h.7M364.6 118.0h.7M357.8 111.4h.7M360.7 113.4h.7M356.2 117.1h.7M355.2 118.4h.7M355.5 115.1h.7M360.0 123.4h.7M375.9 121.1h.7M355.5 117.1h.7M370.1 120.5h.7M347.7 116.8h.7M355.5 120.3h.7M367.6 114.8h.7M380.9 115.9h.7M383.5 116.3h.7M361.3 125.2h.7M357.4 115.0h.7M375.0 116.9h.7M366.2 111.6h.7M377.8 121.3h.7M365.1 120.1h.7M357.6 115.0h.7M348.2 118.7h.7M372.9 120.8h.7M370.1 120.1h.7M353.9 111.5h.7M367.6 117.8h.7M370.7 115.9h.7M354.2 119.0h.7M357.1 110.0h.7M356.6 113.3h.7M352.2 114.7h.7M370.4 127.2h.7M377.2 115.3h.7M372.1 116.8h.7M365.5 114.2h.7M361.3 109.9h.7M377.8 113.8h.7M367.2 114.6h.7M364.4 112.0h.7M358.7 121.0h.7M367.2 108.7h.7M369.5 111.5h.7M364.5 119.3h.7M356.3 115.7h.7M359.8 118.8h.7M370.1 122.9h.7M364.9 125.6h.7M353.7 124.7h.7M359.7 120.4h.7M360.9 117.4h.7M353.9 118.7h.7M379.8 117.7h.7M361.8 117.1h.7M368.3 116.2h.7" stroke="#777" stroke-width="0.7" fill="none"/>
<path d="M353.0 120.0h.7M360.0 123.1h.7M347.3 116.4h.7M353.1 122.7h.7M358.2 118.2h.7M364.5 118.4h.7M360.6 125.2h.7M361.6 119.9h.7M356.1 112.5h.7M356.9 123.6h.7M352.4 123.5h.7M356.1 125.6h.7M347.8 114.6h.7M361.9 115.1h.7M348.5 117.4h.7M357.8 117.1h.7M357.0 121.4h.7M349.6 109.0h.7M348.1 113.7h.7M361.8 116.0h.7M347.2 120.7h.7M353.3 115.1h.7M358.9 123.0h.7M354.5 115.8h.7M348.3 110.3h.7M355.1 120.7h.7M348.0 119.2h.7M370.7 114.2h.7M350.7 117.0h.7M356.4 118.5h.7M358.4 121.3h.7M359.3 119.6h.7M354.4 113.1h.7M353.4 122.8h.7M347.5 119.2h.7M349.0 114.8h.7M349.7 124.5h.7M356.7 118.9h.7M352.6 119.6h.7M354.5 119.8h.7M348.4 107.9h.7M356.8 113.9h.7M352.2 118.7h.7M349.8 121.3h.7M351.5 117.9h.7M347.8 117.9h.7M347.4 119.2h.7M360.1 123.4h.7M355.3 113.2h.7M358.6 123.0h.7M364.1 109.4h.7M353.1 117.6h.7M358.9 114.4h.7M350.9 129.0h.7M358.4 110.5h.7M353.1 124.9h.7M349.7 121.6h.7M353.5 112.8h.7M349.6 123.9h.7M359.4 116.5h.7M359.1 116.0h.7M354.3 118.9h.7M346.2 120.4h.7M350.9 107.3h.7M348.5 115.4h.7M348.5 114.8h.7M349.3 108.5h.7M357.8 119.3h.7M354.4 117.9h.7M353.3 117.9h.7M347.1 112.5h.7M353.4 123.4h.7M354.3 126.0h.7M345.6 117.9h.7M349.7 124.3h.7M362.2 116.8h.7M357.0 118.0h.7M347.6 118.6h.7M347.4 125.7h.7M356.2 124.1h.7M354.9 108.6h.7M357.3 119.4h.7M358.5 126.4h.7M347.5 122.4h.7M354.8 118.3h.7M351.5 121.3h.7M356.1 121.9h.7M350.8 113.4h.7M360.1 124.6h.7M349.9 118.9h.7M357.4 111.5h.7M355.7 129.4h.7M354.5 116.0h.7M364.1 119.1h.7M354.1 117.2h.7M354.0 111.3h.7M346.1 112.7h.7M357.9 118.6h.7M359.2 110.2h.7M349.8 125.3h.7M348.7 111.0h.7M349.0 117.5h.7M352.9 124.6h.7M360.2 125.7h.7M356.1 116.9h.7M350.3 112.6h.7M359.9 124.4h.7M353.5 115.2h.7M356.7 121.1h.7M353.8 114.0h.7M354.3 116.6h.7M357.0 121.6h.7M355.4 117.2h.7M361.2 122.3h.7M359.9 122.6h.7M356.6 120.7h.7M347.2 111.2h.7M347.9 121.7h.7M357.9 119.8h.7M353.5 126.9h.7M350.9 111.3h.7M356.8 122.2h.7M351.8 122.5h.7M352.7 115.9h.7M351.0 122.3h.7M358.2 114.2h.7M347.7 119.5h.7M364.5 114.0h.7M346.2 120.8h.7M355.7 116.4h.7M352.9 121.1h.7" stroke="#888" stroke-width="0.7" fill="none"/>
<path d="M388.5 103.3h.7M391.9 97.6h.7M376.5 105.7h.7M389.5 94.3h.7M391.1 104.0h.7M384.2 84.4h.7M382.2 93.7h.7M380.1 97.5h.7M378.6 100.2h.7M396.1 91.2h.7M391.1 94.9h.7M388.2 97.3h.7M392.5 93.9h.7M389.3 93.5h.7M386.3 97.9h.7M391.4 88.9h.7M377.1 106.0h.7M387.3 107.8h.7M378.9 99.2h.7M388.5 108.2h.7M384.7 95.4h.7M389.2 97.4h.7M380.6 102.4h.7M373.8 92.2h.7M393.0 95.1h.7M383.1 100.1h.7M391.6 101.0h.7M379.3 94.7h.7M391.2 97.3h.7M381.3 103.0h.7M391.7 110.5h.7M378.7 93.9h.7M380.9 100.0h.7M382.2 104.4h.7M369.2 103.5h.7M381.2 96.4h.7M388.3 99.2h.7M379.1 106.6h.7M388.4 95.2h.7M386.2 91.6h.7" stroke="#aaa" stroke-width="0.7" fill="none"/>
<path d="M373.7 127.3h.7M347.7 123.5h.7M380.5 128.5h.7M365.5 130.4h.7M388.5 125.4h.7M349.0 127.4h.7M379.9 124.8h.7M347.8 126.9h.7M347.3 128.9h.7M378.3 125.2h.7M368.9 124.9h.7M355.3 124.5h.7M388.3 126.6h.7M383.1 125.8h.7M387.9 127.8h.7M379.8 126.1h.7M375.0 124.5h.7M396.6 128.4h.7M373.5 128.1h.7M350.8 125.7h.7M357.6 129.7h.7M346.2 126.6h.7M391.1 129.3h.7M383.2 125.4h.7M357.7 128.6h.7M361.2 128.8h.7M363.9 129.1h.7M375.6 129.5h.7M397.2 126.0h.7M397.3 123.1h.7M391.6 123.2h.7M374.1 126.1h.7M385.9 125.5h.7M356.4 129.3h.7M374.4 129.0h.7M371.2 123.3h.7M386.0 124.7h.7M370.3 123.0h.7M359.1 128.3h.7M385.6 128.1h.7M368.8 128.9h.7M380.6 124.6h.7M373.6 127.8h.7M383.8 124.6h.7M361.8 125.7h.7M350.5 125.8h.7M383.8 127.6h.7M354.6 128.9h.7M351.6 129.0h.7M353.3 123.8h.7M358.7 127.1h.7M359.7 130.1h.7M394.8 125.3h.7M384.9 128.6h.7M375.0 125.0h.7M395.4 130.7h.7M346.2 125.6h.7M362.4 124.6h.7M368.1 130.2h.7M346.8 129.7h.7M361.7 123.1h.7M392.7 125.2h.7M356.6 123.9h.7M364.8 124.0h.7M354.9 125.0h.7M375.9 126.6h.7M361.5 127.2h.7M386.1 128.8h.7M363.5 130.3h.7M387.0 127.5h.7" stroke="#888" stroke-width="0.7" fill="none"/>
<path d="M405.3 106.8h.7M420.0 109.4h.7M408.7 106.1h.7M423.1 104.9h.7M420.9 107.2h.7M411.6 108.8h.7M414.0 105.2h.7M414.2 109.0h.7M414.9 109.2h.7M416.0 107.0h.7M413.7 107.3h.7M407.0 106.4h.7M411.8 105.8h.7M414.2 107.5h.7M411.7 104.6h.7M416.4 105.9h.7M414.4 105.8h.7M420.4 109.0h.7M412.6 103.6h.7M408.6 106.1h.7M413.9 106.4h.7M413.2 103.8h.7M406.9 109.1h.7M425.6 107.7h.7M402.2 108.8h.7M408.4 108.7h.7M418.4 106.9h.7M422.3 108.3h.7M408.0 104.9h.7M426.5 105.9h.7M413.6 106.4h.7M408.0 103.8h.7M410.1 106.4h.7M417.2 105.7h.7M410.8 107.0h.7M415.6 105.9h.7M414.4 106.8h.7M421.7 106.5h.7M411.9 107.6h.7M418.7 105.0h.7M408.0 106.1h.7M417.8 106.6h.7M432.3 108.8h.7M423.8 109.3h.7M416.7 104.1h.7M420.7 107.3h.7M403.5 106.7h.7M415.8 108.3h.7M412.1 105.7h.7M415.8 105.3h.7M410.5 107.9h.7M403.2 106.4h.7M415.5 106.5h.7M416.8 106.8h.7M409.7 107.5h.7M409.5 106.8h.7M417.6 105.6h.7M418.3 104.7h.7M409.6 103.6h.7M407.7 109.4h.7M413.3 108.8h.7M413.9 108.0h.7M416.3 103.7h.7M414.2 106.5h.7M411.8 107.4h.7M409.2 103.7h.7M404.2 104.1h.7M402.7 106.4h.7M419.3 105.4h.7M406.2 104.6h.7M407.9 106.2h.7M404.9 107.4h.7M403.4 107.6h.7M406.8 108.0h.7M405.4 107.4h.7M413.8 106.5h.7M421.3 106.9h.7M405.4 107.8h.7M405.8 105.7h.7M411.1 106.9h.7M421.8 103.6h.7M409.4 108.6h.7M410.0 107.2h.7M420.7 104.5h.7M411.3 108.0h.7M407.3 103.6h.7M404.7 106.9h.7M412.2 109.8h.7M419.4 103.9h.7M417.6 108.2h.7M421.3 106.3h.7M407.5 106.9h.7M420.8 107.7h.7M421.7 108.0h.7M407.3 104.8h.7M422.7 104.0h.7M408.8 106.0h.7M405.2 105.6h.7M411.0 110.7h.7M410.6 105.7h.7M411.8 108.2h.7M405.8 105.9h.7M415.3 109.2h.7M403.4 110.4h.7M416.5 106.1h.7M408.5 106.1h.7M403.3 107.9h.7M407.2 105.3h.7M414.3 106.8h.7M407.3 106.2h.7M407.9 108.9h.7M417.3 105.3h.7M410.7 109.0h.7M409.2 109.7h.7M413.8 107.8h.7M413.2 107.6h.7M414.1 107.5h.7M407.8 108.2h.7M411.4 104.8h.7M404.5 106.9h.7M413.1 102.8h.7M410.9 111.6h.7M407.2 107.6h.7M419.9 109.4h.7M404.6 108.8h.7M403.3 107.1h.7M412.1 107.7h.7M405.9 108.9h.7M410.6 106.6h.7M409.3 104.7h.7M415.6 107.2h.7M413.9 109.9h.7M405.5 106.1h.7M411.0 108.1h.7M409.9 108.2h.7M413.9 103.5h.7M406.7 103.1h.7M409.2 105.9h.7M414.7 106.9h.7M410.6 108.8h.7M414.8 104.5h.7M406.6 107.2h.7M421.8 106.3h.7M409.9 107.1h.7M416.0 106.4h.7M412.9 105.9h.7M407.5 105.2h.7M415.2 105.6h.7M414.5 107.3h.7M417.2 101.9h.7M404.9 104.5h.7M410.0 108.0h.7M427.1 109.3h.7M419.6 107.3h.7M408.5 107.5h.7M411.1 107.7h.7M404.5 104.7h.7M406.9 106.5h.7M413.2 106.0h.7M413.2 107.8h.7M403.6 106.4h.7M416.7 105.4h.7M422.8 107.5h.7M416.6 106.8h.7M416.5 108.5h.7M411.7 105.7h.7M407.5 110.0h.7M409.8 105.8h.7M406.5 103.7h.7M407.8 107.2h.7M407.9 105.3h.7M413.6 107.4h.7M408.2 107.1h.7M404.8 108.1h.7M404.7 106.0h.7M411.9 105.9h.7M403.7 110.3h.7M420.6 103.5h.7M411.8 104.4h.7M413.0 104.3h.7M414.7 107.5h.7M421.9 108.7h.7M408.1 108.3h.7M408.1 106.4h.7M407.8 103.5h.7M414.8 103.0h.7M409.5 107.5h.7M411.7 103.8h.7M406.9 107.8h.7M418.0 109.4h.7M407.9 107.9h.7M415.5 105.5h.7M408.7 104.9h.7M418.1 104.3h.7M405.2 106.0h.7M409.0 110.3h.7M412.7 105.1h.7M414.7 107.2h.7M412.8 106.5h.7M413.9 104.5h.7M403.4 105.9h.7M404.0 107.8h.7M423.3 108.8h.7M413.8 107.2h.7M406.6 104.3h.7M414.5 104.0h.7M412.9 106.4h.7M415.8 106.7h.7M411.7 105.6h.7M415.4 108.4h.7M419.8 104.9h.7M405.1 107.8h.7M408.1 111.1h.7M413.0 103.9h.7M407.5 109.4h.7M402.2 109.4h.7M408.2 104.8h.7M424.9 106.8h.7M409.3 104.6h.7M413.2 105.8h.7M405.6 109.0h.7M413.8 105.0h.7M420.4 106.5h.7M414.2 106.9h.7M418.5 107.7h.7M408.8 107.9h.7M408.5 106.8h.7M421.4 104.7h.7M404.4 105.9h.7M407.8 108.9h.7M421.1 105.8h.7M412.2 106.0h.7M415.3 107.8h.7M415.8 107.9h.7M423.3 106.3h.7M415.4 106.3h.7M411.2 107.0h.7M410.7 107.2h.7M405.6 106.3h.7M407.2 104.6h.7M406.5 105.7h.7M410.1 103.9h.7M409.4 104.6h.7M405.8 106.9h.7M418.1 107.1h.7M407.9 105.8h.7M419.5 103.7h.7M418.2 104.0h.7M407.0 106.7h.7M409.6 109.5h.7M414.1 106.5h.7M417.1 106.7h.7M405.9 108.6h.7M420.5 108.8h.7M403.5 109.9h.7M408.3 107.9h.7M418.6 110.8h.7M418.5 107.5h.7M409.0 101.5h.7M413.8 106.3h.7M411.0 107.0h.7M415.8 106.1h.7M405.3 106.0h.7M423.6 105.4h.7M410.5 109.9h.7M417.7 106.8h.7M415.7 106.1h.7M405.2 108.4h.7M411.9 109.4h.7M409.3 105.9h.7M413.2 106.3h.7M409.0 105.0h.7M412.6 107.2h.7M422.7 106.6h.7M425.6 105.8h.7M405.9 106.3h.7M409.8 103.9h.7M414.7 105.1h.7M415.0 110.0h.7M419.0 106.9h.7M407.7 106.1h.7M417.2 105.7h.7M413.7 108.3h.7M405.2 105.6h.7M413.9 106.6h.7M410.2 105.7h.7M410.6 109.9h.7M419.7 103.8h.7M411.3 106.8h.7M411.2 104.2h.7M410.2 106.9h.7M406.7 107.2h.7M411.6 107.3h.7M409.9 105.8h.7M412.2 108.5h.7M416.7 106.5h.7M408.0 108.5h.7M414.5 108.2h.7M409.2 105.1h.7M412.2 105.5h.7M418.3 108.1h.7M419.5 108.4h.7M408.0 105.1h.7M417.2 108.4h.7M411.4 104.6h.7M405.7 105.4h.7M413.8 108.4h.7M419.3 106.5h.7M408.8 107.7h.7M403.7 104.4h.7M411.1 109.4h.7M417.5 106.6h.7M417.5 105.9h.7M403.5 103.6h.7M412.7 108.2h.7M413.4 106.5h.7M408.4 108.5h.7M410.7 104.1h.7M419.7 105.5h.7M413.5 106.6h.7M417.7 107.0h.7M418.8 107.0h.7M408.1 105.7h.7M415.2 105.1h.7M416.9 106.2h.7M405.1 105.1h.7M410.1 109.7h.7M415.9 106.6h.7M405.2 110.0h.7M409.2 106.6h.7M408.3 109.0h.7M412.1 105.8h.7M412.2 104.8h.7M404.3 106.3h.7M423.7 104.6h.7M410.1 103.8h.7M412.1 107.0h.7M415.7 104.2h.7M407.2 105.5h.7M409.4 110.6h.7M409.7 106.5h.7M407.8 108.0h.7M427.4 108.7h.7M420.8 104.7h.7M417.8 106.6h.7M419.0 108.5h.7M415.2 103.6h.7M411.9 105.7h.7M413.9 106.7h.7M417.7 103.8h.7M406.3 106.5h.7M413.0 105.9h.7M410.8 106.7h.7M417.7 106.4h.7M412.5 103.4h.7M413.3 102.5h.7M413.6 106.4h.7M411.0 105.3h.7M408.3 108.1h.7M413.3 106.6h.7M407.9 107.0h.7M418.6 106.6h.7M408.7 104.5h.7M411.6 105.0h.7M407.0 103.0h.7M406.4 109.9h.7M410.3 104.3h.7M404.0 107.9h.7M413.6 107.0h.7M409.7 107.5h.7M420.8 107.5h.7M409.9 104.1h.7M413.8 109.4h.7M415.1 104.4h.7M412.2 108.9h.7M406.9 107.5h.7M418.7 109.5h.7M413.4 107.8h.7M408.7 106.6h.7M408.4 108.7h.7M402.8 105.4h.7M410.8 106.6h.7M422.4 106.2h.7M413.2 107.2h.7M412.7 109.2h.7M411.9 106.9h.7M410.3 106.6h.7M410.6 108.4h.7M411.1 106.7h.7M410.7 107.9h.7M408.0 108.3h.7M407.3 107.8h.7M423.3 107.0h.7M410.4 104.5h.7M415.7 106.6h.7M416.8 105.4h.7M414.3 109.8h.7M413.6 106.0h.7M402.7 106.6h.7M415.2 107.7h.7M403.8 104.8h.7M404.7 104.8h.7M409.2 107.1h.7M423.3 106.9h.7M420.3 103.7h.7M420.9 108.0h.7M413.8 108.1h.7M415.0 110.0h.7M416.2 103.5h.7M410.5 108.9h.7M408.8 105.4h.7M408.8 107.2h.7M412.2 105.5h.7M414.4 107.7h.7M405.1 104.6h.7M411.1 105.4h.7M407.1 106.4h.7M411.2 107.6h.7M416.3 107.4h.7M418.2 104.9h.7M414.9 107.3h.7M404.3 105.4h.7M413.8 106.7h.7M402.9 105.6h.7M420.8 108.1h.7M411.5 109.0h.7M405.2 106.3h.7M417.2 106.0h.7M403.8 107.6h.7M421.3 102.1h.7M412.0 104.4h.7M409.1 104.1h.7M427.7 105.4h.7M411.3 105.3h.7" stroke="#222" stroke-width="0.7" fill="none"/>
<path d="M422.1 106.1h.7M428.0 110.5h.7M428.4 110.1h.7M421.7 107.1h.7M424.8 103.9h.7M445.4 106.5h.7M428.2 105.5h.7M424.2 105.0h.7M432.1 106.2h.7M426.3 107.4h.7M420.9 107.5h.7M426.2 107.9h.7M425.1 107.1h.7M429.6 108.9h.7M423.6 108.9h.7M422.1 106.6h.7M427.6 107.3h.7M414.7 105.1h.7M426.1 108.8h.7M423.5 110.0h.7M418.1 107.2h.7M429.7 107.0h.7M428.3 108.8h.7M423.0 108.2h.7M432.3 106.5h.7M415.6 104.6h.7M422.8 104.9h.7M429.1 105.4h.7M439.3 108.1h.7M420.5 106.4h.7M434.6 108.3h.7M422.0 109.0h.7M424.7 111.4h.7M424.3 108.2h.7M429.8 106.1h.7M426.2 109.3h.7M429.5 106.9h.7M429.2 110.5h.7M431.6 107.9h.7M428.6 103.9h.7M427.7 106.0h.7M430.6 105.8h.7M429.2 104.9h.7M431.4 105.6h.7M426.9 108.1h.7M425.4 107.0h.7M432.2 110.5h.7M418.1 105.2h.7M430.3 108.9h.7M424.7 107.2h.7M426.0 111.5h.7M426.0 104.6h.7M419.3 104.5h.7M433.4 106.2h.7M436.6 108.3h.7M428.9 108.3h.7M430.9 108.8h.7M422.2 105.9h.7M424.3 107.2h.7M425.8 104.6h.7M423.6 110.5h.7M437.5 105.3h.7M428.9 106.9h.7M422.8 108.4h.7M426.7 110.3h.7M429.3 106.4h.7M413.9 106.8h.7M431.2 105.6h.7M431.4 108.3h.7M418.3 106.6h.7M428.6 108.5h.7M427.8 107.0h.7M425.3 106.4h.7M427.0 104.9h.7M430.2 106.4h.7M429.6 106.0h.7M429.0 107.3h.7M431.4 107.9h.7M431.6 106.7h.7M426.7 106.5h.7M420.8 106.8h.7M432.4 108.5h.7M422.8 107.6h.7M430.7 104.3h.7M428.7 107.7h.7M430.7 107.5h.7M418.4 103.0h.7M436.8 106.2h.7M433.3 109.5h.7M427.4 104.7h.7M433.8 106.9h.7M429.6 107.9h.7M431.7 109.0h.7M420.0 104.2h.7M427.7 107.0h.7M430.8 106.7h.7M426.1 111.0h.7M433.8 109.3h.7M432.1 105.4h.7M426.6 106.9h.7M421.6 105.3h.7M427.8 104.6h.7M429.7 107.9h.7M425.8 106.3h.7M430.0 107.9h.7M428.8 104.6h.7M419.0 111.0h.7M423.8 106.3h.7M418.0 105.4h.7M423.4 108.6h.7M413.9 104.2h.7M425.0 106.0h.7M423.2 106.1h.7M419.2 107.5h.7M432.9 107.3h.7M424.4 109.5h.7M429.4 105.0h.7M424.2 105.8h.7M426.8 109.4h.7M423.5 106.7h.7M427.6 104.7h.7M424.6 108.2h.7M432.6 103.3h.7M430.5 106.4h.7M433.4 108.2h.7M436.7 107.6h.7M425.0 105.4h.7M419.9 108.1h.7M429.5 108.6h.7M428.7 104.1h.7M425.0 106.5h.7M427.8 108.5h.7M434.0 107.6h.7M416.8 105.0h.7M416.5 105.5h.7M421.1 107.5h.7M425.9 109.2h.7M432.3 106.1h.7M431.7 107.0h.7M429.3 109.6h.7M421.3 106.9h.7M434.6 105.5h.7M428.1 107.3h.7M424.9 104.4h.7M423.6 105.1h.7M432.3 107.5h.7M430.5 104.7h.7M429.5 107.3h.7M432.2 105.6h.7M431.0 109.7h.7M435.9 105.2h.7M421.5 104.1h.7M431.8 108.2h.7M428.7 105.3h.7M433.2 110.1h.7M426.8 106.8h.7M432.9 108.0h.7M433.6 106.2h.7M428.7 106.3h.7M424.2 106.4h.7M425.6 108.0h.7M425.5 107.1h.7M423.0 104.6h.7M434.1 105.1h.7M436.0 108.8h.7M415.7 105.7h.7M424.9 107.0h.7M426.1 105.8h.7M433.2 106.8h.7M431.8 105.7h.7M423.6 109.6h.7M425.6 104.8h.7M426.2 109.1h.7M426.2 105.6h.7M430.1 108.9h.7M426.0 106.4h.7M425.2 112.3h.7M426.1 110.4h.7M426.3 107.8h.7M416.9 107.3h.7M427.3 106.4h.7M425.0 104.3h.7M419.7 107.3h.7M423.9 106.8h.7M426.1 106.0h.7M423.4 110.6h.7M421.6 106.0h.7M425.6 104.7h.7M422.3 108.7h.7M431.6 107.3h.7M443.0 108.6h.7M433.1 105.4h.7M432.4 110.3h.7M425.1 110.5h.7M423.0 104.8h.7M426.8 105.4h.7M430.2 104.8h.7M427.4 103.2h.7M426.9 109.1h.7M425.7 107.6h.7M432.4 104.9h.7M420.7 107.2h.7M428.4 106.5h.7M422.2 109.4h.7M421.3 106.5h.7M426.8 108.4h.7M424.8 105.4h.7M437.0 105.4h.7M431.0 106.7h.7M424.7 106.9h.7M425.8 107.6h.7M414.5 106.9h.7M427.4 105.1h.7M425.1 111.6h.7M436.1 108.3h.7M428.2 106.4h.7M433.9 106.1h.7M423.0 108.4h.7M422.2 105.5h.7M434.2 103.9h.7M426.7 107.2h.7M428.3 104.2h.7M425.9 106.3h.7M436.5 109.0h.7M423.3 108.7h.7M430.2 106.8h.7M425.8 106.5h.7M419.4 105.8h.7M431.6 109.8h.7M436.2 106.3h.7M430.1 102.3h.7M425.7 104.5h.7M431.1 103.8h.7M421.9 104.8h.7M429.0 108.6h.7M422.5 110.5h.7M427.8 105.4h.7M428.7 107.0h.7M431.1 107.7h.7M437.8 109.3h.7M423.9 108.5h.7M430.8 105.0h.7M423.3 105.4h.7M414.8 108.2h.7M426.0 109.4h.7M424.3 107.1h.7M430.6 108.9h.7M428.6 105.0h.7M437.9 108.7h.7M433.7 110.2h.7M434.0 107.8h.7M429.4 108.2h.7M419.6 108.6h.7M422.2 107.8h.7M422.0 108.4h.7M424.6 111.9h.7M428.0 108.0h.7M422.6 106.4h.7M426.7 106.4h.7M424.9 105.3h.7" stroke="#333" stroke-width="0.7" fill="none"/>
<path d="M439.4 107.8h.7M433.5 110.7h.7M433.5 108.6h.7M434.6 105.7h.7M435.7 106.1h.7M431.8 110.7h.7M435.4 103.6h.7M435.0 110.0h.7M438.1 110.8h.7M437.5 111.6h.7M434.7 106.2h.7M438.8 107.7h.7M436.6 111.8h.7M440.0 114.1h.7M434.0 107.9h.7M438.6 103.7h.7M431.8 111.7h.7M434.2 105.7h.7M439.5 111.4h.7M440.0 108.0h.7M435.4 108.0h.7M437.6 101.4h.7M433.9 112.1h.7M433.6 109.1h.7M437.0 111.3h.7M434.8 104.9h.7M445.9 106.5h.7M442.9 102.5h.7M436.9 108.5h.7M443.6 117.2h.7M440.2 105.4h.7M433.5 106.4h.7M434.6 110.3h.7M433.6 108.3h.7M442.0 114.9h.7M429.6 105.6h.7M435.1 114.3h.7M435.3 116.7h.7M437.9 114.9h.7M433.3 108.1h.7M440.3 111.5h.7M429.6 108.2h.7M437.2 111.8h.7M434.2 116.1h.7M437.1 114.9h.7M438.0 109.6h.7M435.3 104.8h.7M439.8 112.2h.7M440.0 107.8h.7M432.8 107.8h.7M435.4 109.3h.7M440.2 105.8h.7M434.7 112.0h.7M439.9 117.9h.7M438.5 106.0h.7M432.7 106.2h.7M436.8 110.3h.7M436.3 106.9h.7M435.9 109.0h.7M438.8 109.6h.7M433.5 104.8h.7M442.1 109.0h.7M435.9 109.2h.7M440.8 108.1h.7M437.2 108.4h.7M438.7 105.4h.7M437.3 113.3h.7M441.0 111.7h.7M437.6 115.4h.7M439.2 114.7h.7M432.1 105.1h.7M439.5 108.3h.7M434.9 105.6h.7M442.1 104.7h.7M436.9 103.9h.7M435.9 118.0h.7M445.6 107.4h.7M432.8 115.6h.7M433.4 102.4h.7M437.8 105.1h.7M431.1 113.7h.7M433.8 105.2h.7M437.2 108.6h.7M440.7 109.7h.7M442.5 113.7h.7M443.2 113.7h.7M436.8 111.4h.7M436.6 103.3h.7M432.2 112.2h.7M427.8 106.1h.7M431.8 109.1h.7M432.7 110.3h.7M435.8 107.5h.7M433.4 100.7h.7M436.8 104.3h.7M435.5 110.7h.7M440.5 112.0h.7M442.1 103.8h.7M439.1 115.4h.7M438.0 105.0h.7M438.0 107.3h.7M434.2 113.4h.7M435.9 105.0h.7M434.0 116.9h.7M433.4 111.9h.7M437.2 113.8h.7M435.5 105.7h.7M434.2 105.3h.7M446.2 110.1h.7M435.4 114.2h.7M439.0 108.6h.7M438.9 110.4h.7M440.7 115.7h.7M435.4 109.2h.7M435.9 114.0h.7M438.0 112.3h.7M439.9 106.9h.7M437.0 114.7h.7M440.0 112.5h.7M435.5 107.9h.7M433.4 108.3h.7M436.3 103.8h.7M440.9 106.4h.7M437.5 111.6h.7M434.5 102.3h.7M440.1 110.9h.7M435.6 113.7h.7M439.9 105.6h.7M436.3 102.5h.7M435.6 114.8h.7M433.5 112.5h.7M431.0 108.2h.7M440.1 116.0h.7M438.2 112.2h.7M442.9 99.9h.7M430.2 116.6h.7M445.7 111.6h.7M436.8 110.3h.7M436.7 106.9h.7M436.5 108.8h.7M439.0 111.9h.7M440.2 111.6h.7M433.0 114.7h.7M426.7 109.8h.7M437.8 107.3h.7M443.5 105.1h.7M432.2 107.4h.7M438.1 112.4h.7M437.0 111.9h.7M434.0 107.0h.7M437.0 104.1h.7M437.3 107.8h.7M439.1 105.4h.7M434.6 107.1h.7M435.2 105.4h.7M435.6 104.1h.7M438.5 111.9h.7M436.5 108.6h.7M433.3 105.6h.7M435.8 105.8h.7M432.2 110.0h.7M436.5 107.7h.7M433.6 109.1h.7M434.0 107.7h.7M437.2 112.1h.7M439.4 107.0h.7M441.0 104.8h.7M435.9 114.3h.7M445.3 109.8h.7M435.2 107.9h.7M432.1 108.7h.7M435.0 106.4h.7M441.0 106.3h.7M442.8 112.6h.7M438.9 107.0h.7M434.7 101.6h.7M437.6 108.3h.7M438.0 106.7h.7M438.4 103.5h.7M428.5 111.1h.7M440.5 97.1h.7M441.3 108.0h.7M436.0 103.4h.7M432.9 112.1h.7M433.9 109.2h.7M436.0 117.0h.7M439.8 104.2h.7M434.8 104.9h.7M431.5 106.7h.7M440.6 109.5h.7M439.0 108.8h.7M435.0 109.6h.7M436.3 116.8h.7M443.2 110.8h.7M438.8 101.6h.7M436.1 118.6h.7M433.6 112.5h.7M441.0 107.8h.7M435.7 107.5h.7M439.5 109.4h.7M442.1 113.9h.7M436.5 119.4h.7M435.4 106.9h.7M435.7 105.9h.7M435.0 109.0h.7M439.8 103.2h.7M431.4 106.3h.7M435.4 111.1h.7M433.7 115.1h.7M434.6 108.5h.7M436.8 113.8h.7M437.6 109.4h.7M434.6 110.0h.7M438.0 108.0h.7M436.5 102.2h.7M434.6 113.9h.7M441.8 109.0h.7M428.6 116.4h.7M435.9 119.3h.7M435.0 113.2h.7M434.3 114.6h.7M440.8 105.2h.7M441.3 120.4h.7M435.7 104.6h.7M437.6 107.8h.7M431.1 105.2h.7M437.4 103.4h.7M440.5 111.0h.7M435.9 114.7h.7M433.2 112.0h.7M431.6 108.0h.7M438.9 107.2h.7M436.1 111.8h.7M442.1 114.4h.7M438.2 108.3h.7M431.2 116.0h.7M443.4 100.9h.7M439.7 109.1h.7M439.1 110.5h.7M435.8 109.3h.7M436.4 113.8h.7M435.6 107.2h.7M438.9 111.8h.7M438.1 110.4h.7M441.9 113.6h.7M437.3 108.5h.7M439.0 102.0h.7M434.6 106.6h.7M437.2 107.8h.7M445.6 112.2h.7M438.0 118.0h.7M436.5 108.1h.7M441.0 112.5h.7M439.9 114.0h.7M435.2 106.7h.7M433.9 109.7h.7M440.2 105.2h.7M434.6 104.1h.7M443.8 112.4h.7M437.3 104.6h.7M432.8 106.8h.7M436.7 104.4h.7M435.7 114.0h.7M436.6 109.7h.7M428.9 108.2h.7M436.0 106.6h.7M431.5 109.0h.7M432.8 107.2h.7M430.7 108.9h.7M439.9 106.0h.7M437.7 103.4h.7M438.7 111.4h.7M435.1 112.7h.7M433.3 109.5h.7M442.7 109.2h.7M432.4 113.8h.7M438.5 108.2h.7M429.9 102.0h.7M431.0 115.1h.7M437.6 106.0h.7M440.7 115.0h.7M433.5 111.2h.7M430.5 110.8h.7M443.2 103.8h.7M436.7 106.8h.7M436.2 109.6h.7M437.6 112.8h.7M438.4 113.4h.7M440.2 113.6h.7M434.1 110.9h.7M435.2 106.0h.7M443.7 110.4h.7M436.7 101.1h.7M435.7 112.3h.7M435.8 107.2h.7M441.9 108.1h.7M435.3 108.9h.7M435.7 113.4h.7M438.6 109.0h.7M435.2 108.4h.7M442.7 108.1h.7M438.9 103.2h.7M437.7 112.0h.7M441.2 110.5h.7M438.6 110.6h.7M440.4 117.3h.7M437.3 106.1h.7M438.7 108.9h.7M438.9 112.3h.7M437.1 107.6h.7M437.7 104.4h.7M437.5 105.8h.7M438.2 109.8h.7M435.7 104.6h.7M436.7 106.6h.7M436.0 112.0h.7M440.0 104.3h.7M439.9 114.6h.7M440.6 110.4h.7M436.2 116.1h.7M435.4 103.3h.7M436.9 110.4h.7M432.8 104.6h.7M443.7 109.7h.7M439.4 107.0h.7M431.0 108.6h.7M441.4 106.7h.7M430.0 108.6h.7M435.5 109.4h.7M432.7 108.1h.7M434.6 112.7h.7M437.1 112.7h.7M436.4 101.0h.7M429.4 111.4h.7M439.7 112.7h.7M436.3 102.3h.7M434.8 110.9h.7M441.6 108.0h.7M434.5 106.3h.7M440.2 112.7h.7M429.9 114.0h.7M433.2 103.6h.7M430.7 106.5h.7M445.0 119.3h.7M432.0 106.7h.7M437.1 110.9h.7M434.8 103.1h.7M435.0 106.6h.7M430.0 109.9h.7M431.2 102.5h.7M442.1 113.0h.7M441.8 109.8h.7M435.0 109.0h.7M431.6 112.2h.7M437.5 108.1h.7M429.7 108.9h.7M442.5 115.0h.7M439.7 107.9h.7M437.0 111.5h.7M437.3 113.4h.7M434.1 100.2h.7M427.7 105.7h.7M431.5 111.9h.7M440.5 109.3h.7M438.5 109.6h.7M437.2 107.5h.7M435.1 114.0h.7M435.6 109.1h.7M440.9 113.1h.7M435.1 110.3h.7M432.9 109.8h.7M437.7 109.3h.7M437.1 110.7h.7M427.3 106.1h.7M436.8 107.4h.7M433.0 108.4h.7M442.4 108.4h.7M434.2 107.4h.7M432.2 111.2h.7M433.0 112.9h.7M439.9 111.5h.7M440.3 109.0h.7M430.1 109.0h.7M438.9 103.3h.7M432.1 113.6h.7M438.1 114.6h.7M439.0 109.6h.7M438.1 112.6h.7M436.4 108.5h.7M437.7 108.1h.7M445.3 106.3h.7M431.0 104.2h.7M440.4 107.7h.7M437.1 108.5h.7M437.6 103.6h.7M436.9 107.1h.7M440.5 111.7h.7M432.0 105.5h.7M438.6 114.0h.7M439.3 108.7h.7M440.6 100.1h.7M434.6 105.5h.7M432.8 111.5h.7M437.6 110.4h.7M436.1 111.7h.7M439.4 107.1h.7M440.0 105.7h.7M443.0 104.2h.7M435.5 105.1h.7M436.7 114.5h.7M433.8 116.3h.7M441.7 110.8h.7M434.4 112.8h.7M426.1 106.3h.7M440.1 109.1h.7M445.7 106.7h.7M431.7 108.5h.7M438.7 116.0h.7M430.1 109.9h.7M441.2 106.7h.7" stroke="#3a3a3a" stroke-width="0.7" fill="none"/>
<path d="M436.7 112.3h.7M440.3 120.3h.7M439.7 118.0h.7M440.9 116.5h.7M440.1 120.2h.7M441.8 119.0h.7M438.3 119.8h.7M433.5 110.1h.7M442.7 117.5h.7M435.0 114.7h.7M437.6 117.3h.7M435.8 120.9h.7M433.1 128.0h.7M434.9 123.5h.7M440.0 110.4h.7M434.5 117.2h.7M438.8 115.3h.7M438.1 117.6h.7M434.7 117.2h.7M444.7 114.5h.7M435.1 119.6h.7M442.0 121.1h.7M436.2 116.7h.7M438.6 116.2h.7M439.2 121.3h.7M439.6 117.0h.7M437.4 124.0h.7M434.4 124.9h.7M440.2 117.3h.7M435.9 124.2h.7M441.6 120.6h.7M444.1 109.9h.7M438.3 115.8h.7M435.9 117.3h.7M439.6 119.1h.7M437.6 111.8h.7M439.7 119.4h.7M444.3 120.7h.7M438.1 112.5h.7M446.0 114.3h.7M438.6 120.0h.7M439.5 122.2h.7M435.0 114.3h.7M438.6 112.1h.7M436.2 122.5h.7M438.9 116.6h.7M436.4 117.2h.7M437.9 112.7h.7M440.4 112.0h.7M441.8 115.7h.7M431.3 110.9h.7M438.9 113.6h.7M443.4 122.5h.7M444.3 120.5h.7M442.0 114.6h.7M441.9 115.3h.7M437.9 111.6h.7M438.2 118.6h.7M437.9 112.6h.7M440.7 120.6h.7M437.8 120.1h.7M441.0 113.1h.7M437.9 109.6h.7M435.0 118.7h.7M435.4 118.6h.7M439.1 108.8h.7M436.6 123.0h.7M438.1 117.5h.7M435.9 110.6h.7M433.3 128.4h.7M437.5 113.5h.7M438.4 109.3h.7M442.2 123.8h.7M435.8 118.3h.7M435.4 120.4h.7M435.5 116.4h.7M441.9 119.1h.7M437.1 111.0h.7M433.3 121.8h.7M439.6 117.2h.7M441.8 117.6h.7M435.9 116.6h.7M437.7 116.9h.7M445.5 119.3h.7M438.9 116.0h.7M436.0 113.0h.7M432.4 115.2h.7M433.5 109.6h.7M435.2 108.9h.7M442.1 122.0h.7" stroke="#666" stroke-width="0.7" fill="none"/>
<path d="M440.7 121.0h.7M439.1 124.6h.7M434.5 126.4h.7M442.0 128.1h.7M435.2 125.4h.7M437.1 129.7h.7M438.8 124.7h.7M436.7 122.3h.7M436.8 129.1h.7M434.1 127.5h.7M438.7 129.0h.7M436.1 129.2h.7M434.8 126.9h.7M438.5 127.3h.7M436.5 129.1h.7M436.5 125.6h.7M440.9 127.3h.7M437.0 130.0h.7M440.4 129.5h.7M438.6 130.1h.7M437.8 124.3h.7M439.0 123.6h.7M442.3 128.8h.7M434.6 127.4h.7M441.2 126.1h.7M440.1 125.6h.7M438.8 126.8h.7M440.3 124.7h.7M436.1 127.8h.7M437.7 128.2h.7M437.7 123.8h.7M440.9 127.6h.7M440.9 126.2h.7M438.1 130.0h.7M440.4 126.9h.7M439.2 128.5h.7M437.0 127.7h.7M436.5 122.6h.7M439.5 127.2h.7M440.7 128.3h.7M440.8 128.9h.7M436.3 129.9h.7M446.0 125.6h.7M435.7 128.6h.7M441.4 129.4h.7M443.0 123.7h.7M440.0 128.1h.7M442.3 124.9h.7M439.1 126.1h.7M438.6 126.7h.7M438.6 122.7h.7M438.9 127.2h.7M438.0 118.5h.7M437.2 125.4h.7M441.4 126.6h.7M436.5 128.1h.7M441.9 126.7h.7M440.6 125.1h.7M434.9 129.0h.7M443.3 126.3h.7M437.6 122.7h.7M444.6 124.1h.7M436.5 126.5h.7" stroke="#444" stroke-width="0.7" fill="none"/>
<path d="M449.8 92.4h.7M439.9 92.1h.7M446.9 91.7h.7M441.3 91.5h.7M431.1 101.4h.7M434.4 82.7h.7M436.5 92.2h.7M446.6 81.7h.7M429.8 93.3h.7M443.1 84.3h.7M430.9 93.2h.7M438.9 80.6h.7M433.0 102.4h.7M431.5 99.4h.7M427.7 102.4h.7M452.9 87.5h.7M434.5 96.4h.7M430.0 95.9h.7M449.8 93.9h.7M442.6 90.9h.7M448.1 86.2h.7M452.8 91.8h.7M437.4 80.5h.7M436.5 93.7h.7M450.0 80.7h.7M439.0 87.2h.7M430.4 92.0h.7M433.9 98.1h.7M418.3 97.2h.7M444.2 89.6h.7M441.0 85.2h.7M431.6 86.8h.7M439.6 86.1h.7M436.6 86.0h.7M441.9 84.0h.7M439.9 92.7h.7M447.7 86.8h.7M430.8 81.5h.7M446.1 87.6h.7M447.9 91.4h.7M437.8 78.9h.7M434.6 97.5h.7M435.1 96.8h.7M426.8 99.1h.7M442.6 83.3h.7M435.8 87.4h.7" stroke="#aaa" stroke-width="0.7" fill="none"/>
<path d="M408.1 118.2h.7M416.2 118.0h.7M421.9 110.4h.7M404.2 116.9h.7M415.3 115.3h.7M408.5 119.1h.7M419.0 119.6h.7M412.2 117.8h.7M414.5 111.2h.7M414.4 108.4h.7M413.6 115.7h.7M420.6 110.8h.7M404.3 112.1h.7M436.0 115.6h.7M408.9 112.3h.7M429.2 110.3h.7M414.1 114.7h.7M409.1 112.1h.7M425.4 120.7h.7M412.7 117.8h.7M418.7 115.4h.7M413.9 119.9h.7M419.6 114.1h.7M413.1 118.7h.7M410.2 112.1h.7M412.8 113.0h.7M425.1 116.4h.7M414.3 112.9h.7M426.4 116.8h.7M431.7 118.6h.7M413.3 112.8h.7M412.7 115.7h.7M421.3 117.0h.7M427.6 108.9h.7M415.2 109.3h.7M406.7 112.6h.7M409.8 111.1h.7M402.8 119.6h.7M412.4 118.9h.7M406.1 105.7h.7M410.2 118.5h.7M410.5 116.6h.7M406.4 120.6h.7M418.5 119.2h.7M412.8 120.1h.7M415.6 113.0h.7M409.9 115.2h.7M407.7 110.2h.7M416.0 117.8h.7M412.7 118.4h.7M427.7 109.9h.7M417.1 111.1h.7M409.8 115.7h.7M421.7 117.2h.7M420.2 122.3h.7M412.1 119.4h.7M426.6 117.0h.7" stroke="#999" stroke-width="0.7" fill="none"/>
<path d="M430.5 129.4h.7M441.8 129.0h.7M416.8 125.0h.7M435.1 123.4h.7M453.6 128.8h.7M429.4 125.9h.7M406.7 127.4h.7M444.6 123.9h.7M407.9 128.5h.7M428.1 129.3h.7M424.9 130.9h.7M450.1 125.6h.7M431.7 127.7h.7M427.0 129.5h.7M440.9 129.5h.7M416.3 127.0h.7M432.1 127.7h.7M403.4 129.5h.7M426.9 124.3h.7M449.1 127.5h.7M442.9 128.9h.7M436.4 130.3h.7M405.5 125.7h.7M411.4 128.1h.7M414.5 123.2h.7" stroke="#999" stroke-width="0.7" fill="none"/>
<path d="M493.2 114.0h.7M489.5 112.4h.7M491.8 112.9h.7M490.3 112.7h.7M492.9 113.2h.7M493.7 114.9h.7M493.6 115.3h.7M494.3 116.4h.7M493.8 110.9h.7M498.0 115.2h.7M495.3 114.4h.7M492.3 109.6h.7M493.3 111.7h.7M491.2 107.0h.7M496.1 109.0h.7M489.4 114.5h.7M493.6 110.4h.7M492.2 113.5h.7M492.6 114.2h.7M494.1 111.5h.7M488.1 119.4h.7M491.2 110.2h.7M494.1 114.2h.7M490.7 119.6h.7M486.3 117.2h.7M492.1 113.7h.7M493.0 112.0h.7M493.0 109.1h.7M491.2 118.1h.7M485.7 117.1h.7M486.6 111.2h.7M494.4 111.4h.7M490.7 108.8h.7M491.9 112.3h.7M490.6 108.7h.7M492.6 113.9h.7M495.1 113.8h.7M496.0 115.6h.7M485.1 118.4h.7M491.9 109.9h.7M493.3 115.3h.7M488.3 109.9h.7M493.9 111.0h.7M495.9 112.9h.7M490.8 109.3h.7M493.7 107.8h.7M488.9 109.6h.7M496.5 117.0h.7M491.6 111.8h.7M494.0 116.0h.7M490.2 119.2h.7M491.7 116.0h.7M486.3 113.4h.7M490.4 118.6h.7M491.7 109.3h.7M497.1 110.2h.7M492.2 109.3h.7M493.9 113.1h.7M491.5 111.8h.7M490.8 111.0h.7M488.7 116.6h.7M494.4 108.6h.7M489.3 114.3h.7M497.9 111.5h.7M491.4 112.2h.7M492.8 112.2h.7M494.9 115.2h.7M493.6 117.0h.7M491.6 111.3h.7M499.7 106.4h.7M488.3 106.8h.7M493.1 109.7h.7M494.9 106.6h.7M491.9 111.8h.7M489.5 116.3h.7M491.2 114.2h.7M490.9 113.4h.7M491.1 113.2h.7M491.9 110.9h.7M493.3 112.1h.7M489.8 110.2h.7M493.3 116.4h.7M488.9 112.1h.7M493.3 115.6h.7M494.0 109.3h.7M492.3 115.3h.7M492.8 112.1h.7M489.2 113.7h.7M492.0 112.9h.7M496.0 115.6h.7M490.2 113.7h.7M491.4 113.2h.7M496.3 114.8h.7M492.3 110.9h.7M491.8 113.9h.7M490.9 116.0h.7M492.3 109.5h.7M497.3 104.0h.7M491.5 112.6h.7M494.7 115.6h.7M495.9 116.7h.7M493.0 113.0h.7M494.8 112.4h.7M489.0 112.0h.7M493.9 114.3h.7M489.4 116.5h.7M493.0 108.5h.7M493.4 115.4h.7M493.5 111.8h.7M490.2 116.2h.7M492.8 112.7h.7M491.2 110.1h.7M487.5 112.5h.7M495.0 114.6h.7M490.5 117.3h.7M491.6 110.1h.7M494.7 116.3h.7M491.2 109.5h.7M492.0 106.0h.7M492.3 117.0h.7M492.9 110.7h.7M494.0 111.2h.7M495.4 111.4h.7M497.3 111.1h.7M492.7 110.1h.7M489.0 114.2h.7M493.1 110.0h.7M493.6 111.5h.7M490.8 112.8h.7M493.2 114.7h.7M495.3 113.4h.7M490.4 111.1h.7M493.1 109.3h.7M491.8 111.8h.7M492.0 113.3h.7M494.8 117.0h.7M494.4 115.3h.7M489.5 116.1h.7M495.5 108.6h.7M498.5 110.4h.7M486.2 118.5h.7M492.4 110.5h.7M490.8 116.0h.7M492.8 111.7h.7M495.1 109.8h.7M490.1 111.5h.7M490.3 115.0h.7M491.6 109.9h.7M491.0 107.4h.7M492.6 113.0h.7M493.7 111.9h.7M493.2 110.1h.7M492.3 113.2h.7M489.2 114.8h.7M492.6 112.9h.7M491.0 118.5h.7M492.2 110.7h.7M490.1 114.7h.7M491.7 110.7h.7M490.4 115.6h.7M492.4 115.7h.7M492.2 109.5h.7M494.4 113.4h.7M490.6 112.2h.7M489.8 115.4h.7M491.2 114.3h.7M492.9 112.0h.7M493.1 112.0h.7M489.2 112.0h.7M489.2 115.3h.7M493.8 111.0h.7M493.8 113.3h.7M494.6 109.9h.7M492.3 110.0h.7M490.5 116.8h.7M487.2 110.9h.7M493.4 114.8h.7M490.2 107.4h.7M487.9 114.4h.7M495.0 115.0h.7M490.4 116.8h.7M491.7 114.6h.7M491.7 117.3h.7M490.9 107.0h.7M491.4 113.4h.7M492.9 110.7h.7M491.6 109.7h.7M491.6 113.1h.7M492.8 117.3h.7M487.2 114.9h.7M493.3 109.4h.7M492.4 112.8h.7M489.7 115.1h.7M497.0 114.0h.7M494.1 115.5h.7M491.9 115.5h.7M490.2 113.6h.7M494.0 116.2h.7M491.5 112.1h.7M493.4 112.4h.7M492.5 115.0h.7M490.3 115.5h.7M493.1 111.9h.7M489.1 111.5h.7M492.1 115.4h.7M487.3 115.4h.7M492.7 109.6h.7M494.3 113.6h.7M493.3 109.9h.7M489.4 115.7h.7M495.7 113.3h.7M491.7 111.6h.7M487.9 116.1h.7M492.0 116.2h.7M490.4 115.9h.7M490.4 114.7h.7M495.6 110.4h.7M494.5 112.5h.7M489.9 113.7h.7M493.8 110.6h.7M491.5 111.3h.7M490.3 112.5h.7M494.2 111.2h.7M495.3 111.3h.7M490.5 116.0h.7M495.7 110.5h.7M493.7 109.4h.7M491.2 111.9h.7M494.0 109.1h.7M490.9 111.1h.7M492.4 109.4h.7M488.9 121.0h.7M492.7 108.6h.7M494.3 108.9h.7M487.5 118.0h.7M495.3 110.1h.7M489.5 114.5h.7M497.2 113.8h.7M493.8 109.3h.7M487.8 114.5h.7M494.7 112.8h.7M492.2 116.6h.7M490.1 116.1h.7M494.3 110.8h.7M492.5 113.1h.7M493.6 109.9h.7M491.6 113.1h.7M492.3 112.8h.7M492.8 112.2h.7M491.0 115.8h.7" stroke="#3a3a3a" stroke-width="0.7" fill="none"/>
<path d="M493.8 108.5h.7M492.7 106.5h.7M499.2 106.8h.7M496.3 109.7h.7M496.1 110.6h.7M505.9 104.8h.7M495.7 113.9h.7M500.5 101.1h.7M503.6 105.5h.7M501.2 102.3h.7M492.8 108.0h.7M499.7 103.1h.7M493.5 112.7h.7M493.8 109.9h.7M492.6 104.8h.7M496.6 107.8h.7M489.9 114.5h.7M501.0 108.9h.7M494.5 105.6h.7M496.6 108.7h.7M496.1 106.6h.7M492.1 108.0h.7M496.6 106.7h.7M505.2 103.2h.7M499.2 105.5h.7M496.1 105.4h.7M494.6 104.4h.7M486.8 117.1h.7M491.8 111.9h.7M496.4 106.5h.7M500.6 104.5h.7M499.1 105.8h.7M501.8 108.7h.7M497.3 111.3h.7M499.5 111.7h.7M496.4 103.4h.7M498.0 108.2h.7M495.2 108.2h.7M495.7 104.7h.7M505.4 101.5h.7M491.7 105.6h.7M492.9 109.9h.7M504.2 106.4h.7M493.4 105.8h.7M491.5 110.4h.7M501.2 104.4h.7M504.8 110.3h.7M497.8 100.8h.7M502.3 105.1h.7M500.3 109.5h.7M492.1 110.6h.7M497.9 105.2h.7M500.4 106.0h.7M495.0 114.8h.7M497.8 112.7h.7M496.2 111.6h.7M493.3 110.2h.7M502.3 98.6h.7M499.6 105.9h.7M502.3 106.0h.7M496.6 104.2h.7M511.4 98.8h.7M495.4 106.5h.7M495.5 109.4h.7M490.4 114.4h.7M495.7 110.5h.7M486.7 111.3h.7M495.5 107.5h.7M493.7 110.5h.7M499.0 104.0h.7M487.4 114.9h.7M495.4 112.1h.7M501.2 105.6h.7M490.0 110.2h.7M493.4 113.6h.7M488.7 114.8h.7M489.5 109.8h.7M490.1 109.1h.7M494.8 110.2h.7M494.1 111.5h.7M505.5 104.4h.7M491.3 110.1h.7M496.5 107.1h.7M502.6 108.9h.7M506.8 105.0h.7M484.0 113.8h.7M500.2 103.9h.7M494.0 112.3h.7M497.7 104.1h.7M494.1 99.7h.7M497.0 104.2h.7M496.7 104.4h.7M492.4 108.6h.7M510.6 97.8h.7M491.2 109.1h.7M502.1 108.0h.7M500.4 105.4h.7M497.6 105.3h.7M496.1 105.9h.7M489.9 108.3h.7M506.4 104.7h.7M493.3 109.4h.7M494.8 112.9h.7M496.8 106.1h.7M500.3 107.4h.7M493.6 107.2h.7M497.7 102.5h.7M492.5 113.3h.7M501.2 109.5h.7M494.8 107.2h.7" stroke="#888" stroke-width="0.7" fill="none"/>
<path d="M472.1 111.2h.7M482.7 112.7h.7M483.2 109.8h.7M476.5 123.5h.7M468.9 110.1h.7M469.8 104.5h.7M471.9 110.2h.7M489.0 111.2h.7M480.4 113.8h.7M475.9 118.2h.7M470.1 114.2h.7M474.9 123.7h.7M483.6 115.0h.7M464.8 119.2h.7M473.6 120.8h.7M474.3 115.0h.7M478.4 109.7h.7M469.4 127.4h.7M468.0 119.5h.7M478.6 118.8h.7M483.3 106.1h.7M480.4 101.9h.7M474.3 116.0h.7M480.9 120.3h.7M467.6 112.4h.7M472.8 109.9h.7M468.3 110.1h.7M481.7 122.0h.7M479.0 123.9h.7M474.5 107.6h.7M469.5 115.2h.7M480.9 121.1h.7M467.8 119.6h.7M470.3 117.5h.7M480.2 122.7h.7M470.3 115.4h.7M476.8 111.5h.7M474.5 117.5h.7M462.7 110.2h.7M489.6 116.6h.7M470.1 103.2h.7M467.4 117.0h.7M478.5 116.6h.7M477.9 110.4h.7M484.8 107.4h.7M477.4 112.4h.7M462.3 119.3h.7M472.0 118.2h.7M482.6 115.0h.7M469.4 112.7h.7M473.4 122.5h.7M479.7 123.3h.7M479.1 109.5h.7M480.2 119.7h.7M473.1 116.7h.7M471.7 106.6h.7M473.3 118.5h.7M471.4 100.8h.7M468.5 120.4h.7M475.4 120.6h.7M468.8 111.5h.7M467.1 109.4h.7M477.4 114.8h.7M470.6 115.7h.7M465.0 111.7h.7M463.7 105.2h.7M464.6 107.5h.7M484.6 122.1h.7M482.5 110.6h.7M478.1 107.3h.7M470.2 115.4h.7M463.0 115.2h.7M478.1 101.8h.7M473.1 114.8h.7M466.2 117.3h.7M474.7 109.7h.7M485.1 115.5h.7M478.9 124.9h.7M470.5 112.7h.7M462.1 112.6h.7M476.9 128.8h.7M477.7 115.2h.7M465.3 109.0h.7M461.3 105.9h.7M474.6 115.8h.7M467.7 112.7h.7M468.4 117.7h.7M478.2 110.7h.7M470.8 106.7h.7M470.7 126.9h.7M473.8 119.1h.7M477.8 122.7h.7M471.7 108.6h.7M481.0 119.4h.7M469.4 120.5h.7M473.8 113.7h.7M486.4 117.1h.7M476.0 112.1h.7" stroke="#999" stroke-width="0.7" fill="none"/>
<path d="M501.2 102.3h.7M503.0 89.8h.7M502.9 94.2h.7M502.0 93.7h.7M485.0 83.8h.7M497.3 79.7h.7M489.6 109.0h.7M504.6 91.8h.7M502.1 79.5h.7M501.6 101.8h.7M501.2 85.9h.7M506.5 91.3h.7M496.0 96.4h.7M497.8 109.1h.7M498.9 109.9h.7M503.0 86.4h.7M499.9 95.4h.7M509.7 103.9h.7M496.9 111.2h.7M493.8 97.5h.7M510.9 88.0h.7M497.5 89.8h.7M503.5 97.8h.7M499.6 99.6h.7M494.5 92.4h.7M503.1 109.0h.7M499.6 95.4h.7M508.9 95.5h.7M508.8 96.7h.7" stroke="#bbb" stroke-width="0.7" fill="none"/>
<path d="M462.8 126.8h.7M494.0 127.3h.7M472.8 129.7h.7M512.6 129.5h.7M510.4 130.8h.7M480.8 127.3h.7M483.2 129.3h.7M470.3 124.8h.7M485.2 127.4h.7M513.5 125.7h.7M461.7 126.1h.7M507.5 123.8h.7M488.7 127.8h.7M505.6 125.6h.7M493.4 130.6h.7" stroke="#aaa" stroke-width="0.7" fill="none"/>
<path d="M273 132.3L273 82" stroke="#000" stroke-width="1.6" fill="none"/>
<path d="M273 77.8L270.1 83.4L275.9 83.4Z" stroke="none" stroke-width="0" fill="#000"/>
<text x="267" y="111.42" font-size="9.5" text-anchor="middle" font-weight="bold" textLength="17.5" lengthAdjust="spacingAndGlyphs" transform="rotate(-90 267 108)">CD4</text>
<path d="M279.2 137.9L507 137.9" stroke="#000" stroke-width="1.6" fill="none"/>
<path d="M511.8 137.9L506 135L506 140.8Z" stroke="none" stroke-width="0" fill="#000"/>
<text x="391.8" y="148.92" font-size="9.5" text-anchor="middle" font-weight="bold" textLength="17.5" lengthAdjust="spacingAndGlyphs">CD8</text>
<text x="128.8" y="231.26" font-size="9.6" text-anchor="middle" font-weight="bold" textLength="77" lengthAdjust="spacingAndGlyphs">TcR<tspan font-size="76%" dy="-0.4em">hi</tspan><tspan dy="0.304em"> thymocytes</tspan></text>
<path d="M64.7 252.6L64.7 367.4" stroke="#000" stroke-width="1.5" fill="none"/>
<path d="M64.0 366.7L231.5 366.7" stroke="#000" stroke-width="1.5" fill="none"/>
<path d="M63.1 366.7L64.7 366.7" stroke="#000" stroke-width="0.8" fill="none"/>
<text x="61" y="369.86" font-size="7.4" text-anchor="end" font-weight="bold">0</text>
<path d="M63.1 352.525L64.7 352.525" stroke="#000" stroke-width="0.8" fill="none"/>
<text x="61" y="355.69" font-size="7.4" text-anchor="end" font-weight="bold">1</text>
<path d="M63.1 338.34999999999997L64.7 338.34999999999997" stroke="#000" stroke-width="0.8" fill="none"/>
<text x="61" y="341.51" font-size="7.4" text-anchor="end" font-weight="bold">2</text>
<path d="M63.1 324.17499999999995L64.7 324.17499999999995" stroke="#000" stroke-width="0.8" fill="none"/>
<text x="61" y="327.34" font-size="7.4" text-anchor="end" font-weight="bold">3</text>
<path d="M63.1 310.0L64.7 310.0" stroke="#000" stroke-width="0.8" fill="none"/>
<text x="61" y="313.16" font-size="7.4" text-anchor="end" font-weight="bold">4</text>
<path d="M63.1 295.825L64.7 295.825" stroke="#000" stroke-width="0.8" fill="none"/>
<text x="61" y="298.99" font-size="7.4" text-anchor="end" font-weight="bold">5</text>
<path d="M63.1 281.65L64.7 281.65" stroke="#000" stroke-width="0.8" fill="none"/>
<text x="61" y="284.81" font-size="7.4" text-anchor="end" font-weight="bold">6</text>
<path d="M63.1 267.47499999999997L64.7 267.47499999999997" stroke="#000" stroke-width="0.8" fill="none"/>
<text x="61" y="270.64" font-size="7.4" text-anchor="end" font-weight="bold">7</text>
<path d="M63.1 253.29999999999998L64.7 253.29999999999998" stroke="#000" stroke-width="0.8" fill="none"/>
<text x="61" y="256.46" font-size="7.4" text-anchor="end" font-weight="bold">8</text>
<text x="49.2" y="311.61" font-size="7.8" text-anchor="middle" font-weight="bold" textLength="53" lengthAdjust="spacingAndGlyphs" transform="rotate(-90 49.2 308.8)">CD4/CD8 ratio</text>
<path d="M81.2 306.4L81.2 299" stroke="#151515" stroke-width="1.05" fill="none"/>
<path d="M78.7 299L83.7 299" stroke="#151515" stroke-width="1.05" fill="none"/>
<rect x="74.40" y="306.40" width="13.60" height="60.30" fill="#000" stroke="#000" stroke-width="0"/>
<path d="M115.0 348.5L115.0 332.6" stroke="#151515" stroke-width="1.05" fill="none"/>
<path d="M112.5 332.6L117.5 332.6" stroke="#151515" stroke-width="1.05" fill="none"/>
<rect x="108.20" y="348.50" width="13.60" height="18.20" fill="#000" stroke="#000" stroke-width="0"/>
<rect x="141.50" y="337.90" width="13.60" height="28.80" fill="#000" stroke="#000" stroke-width="0"/>
<path d="M182.0 300.5L182.0 260.3" stroke="#151515" stroke-width="1.05" fill="none"/>
<path d="M179.5 260.3L184.5 260.3" stroke="#151515" stroke-width="1.05" fill="none"/>
<rect x="175.20" y="300.50" width="13.60" height="66.20" fill="#000" stroke="#000" stroke-width="0"/>
<rect x="208.40" y="352.10" width="13.60" height="14.60" fill="#000" stroke="#000" stroke-width="0"/>
<path d="M80.5 248L80.5 244L182 244L182 248" stroke="#000" stroke-width="1.0" fill="none"/>
<text x="132" y="242.52" font-size="7" text-anchor="middle" font-weight="bold" textLength="7" lengthAdjust="spacingAndGlyphs">ns</text>
<path d="M114 256L114 251.5L182 251.5L182 256" stroke="#000" stroke-width="1.0" fill="none"/>
<text x="147" y="253.42" font-size="9.5" text-anchor="middle" font-weight="bold">*</text>
<path d="M80.5 295L80.5 291L115 291L115 295" stroke="#000" stroke-width="1.0" fill="none"/>
<text x="98" y="292.42" font-size="9.5" text-anchor="middle" font-weight="bold">**</text>
<text x="77.2" y="375.81" font-size="7.8" text-anchor="middle" font-weight="bold" textLength="18.5" lengthAdjust="spacingAndGlyphs">GFP<tspan font-size="76%" dy="-0.4em">hi</tspan></text>
<text x="110" y="375.81" font-size="7.8" text-anchor="middle" font-weight="bold" textLength="14" lengthAdjust="spacingAndGlyphs">GFP<tspan font-size="76%" dy="-0.4em">-</tspan></text>
<text x="148.4" y="375.81" font-size="7.8" text-anchor="middle" font-weight="bold" textLength="24" lengthAdjust="spacingAndGlyphs">GFP<tspan font-size="76%" dy="-0.4em">low</tspan></text>
<text x="182" y="375.81" font-size="7.8" text-anchor="middle" font-weight="bold" textLength="18.5" lengthAdjust="spacingAndGlyphs">GFP<tspan font-size="76%" dy="-0.4em">hi</tspan></text>
<text x="41.4" y="388.08" font-size="8" text-anchor="start" font-weight="bold" textLength="30" lengthAdjust="spacingAndGlyphs">sdAb19:</text>
<text x="80.2" y="388.28" font-size="8" text-anchor="middle" font-weight="bold">+</text>
<text x="112.8" y="388.28" font-size="8" text-anchor="middle" font-weight="bold">+</text>
<text x="148.8" y="388.28" font-size="8" text-anchor="middle" font-weight="bold">+</text>
<text x="183.9" y="388.28" font-size="8" text-anchor="middle" font-weight="bold">+</text>
<path d="M212.7 385.6L217.8 385.6" stroke="#000" stroke-width="1.3" fill="none"/>
<path d="M64.7 391.3L96.5 391.3" stroke="#000" stroke-width="1.4" fill="none"/>
<path d="M102.8 391.3L230.3 391.3" stroke="#000" stroke-width="1.4" fill="none"/>
<text x="81.2" y="401.45" font-size="8.2" text-anchor="middle" font-weight="bold" textLength="26.5" lengthAdjust="spacingAndGlyphs">Non-Tg</text>
<text x="165.8" y="401.18" font-size="8" text-anchor="middle" font-weight="bold" textLength="8" lengthAdjust="spacingAndGlyphs">Tg</text>
<text x="383" y="228.76" font-size="9.6" text-anchor="middle" font-weight="bold" textLength="35.5" lengthAdjust="spacingAndGlyphs">Thymus</text>
<path d="M301.6 251.3L301.6 367.9" stroke="#000" stroke-width="1.5" fill="none"/>
<path d="M300.90000000000003 367.2L472.7 367.2" stroke="#000" stroke-width="1.5" fill="none"/>
<path d="M300.0 366.6L301.6 366.6" stroke="#000" stroke-width="0.8" fill="none"/>
<text x="298.2" y="369.96" font-size="7.4" text-anchor="end" font-weight="bold">0</text>
<path d="M300.0 352.225L301.6 352.225" stroke="#000" stroke-width="0.8" fill="none"/>
<text x="298.2" y="355.59" font-size="7.4" text-anchor="end" font-weight="bold">20</text>
<path d="M300.0 337.85L301.6 337.85" stroke="#000" stroke-width="0.8" fill="none"/>
<text x="298.2" y="341.21" font-size="7.4" text-anchor="end" font-weight="bold">40</text>
<path d="M300.0 323.475L301.6 323.475" stroke="#000" stroke-width="0.8" fill="none"/>
<text x="298.2" y="326.84" font-size="7.4" text-anchor="end" font-weight="bold">60</text>
<path d="M300.0 309.1L301.6 309.1" stroke="#000" stroke-width="0.8" fill="none"/>
<text x="298.2" y="312.46" font-size="7.4" text-anchor="end" font-weight="bold">80</text>
<path d="M300.0 294.725L301.6 294.725" stroke="#000" stroke-width="0.8" fill="none"/>
<text x="298.2" y="298.09" font-size="7.4" text-anchor="end" font-weight="bold">100</text>
<path d="M300.0 280.35L301.6 280.35" stroke="#000" stroke-width="0.8" fill="none"/>
<text x="298.2" y="283.71" font-size="7.4" text-anchor="end" font-weight="bold">120</text>
<path d="M300.0 265.975L301.6 265.975" stroke="#000" stroke-width="0.8" fill="none"/>
<text x="298.2" y="269.34" font-size="7.4" text-anchor="end" font-weight="bold">140</text>
<path d="M300.0 251.60000000000002L301.6 251.60000000000002" stroke="#000" stroke-width="0.8" fill="none"/>
<text x="298.2" y="254.96" font-size="7.4" text-anchor="end" font-weight="bold">160</text>
<text x="268.6" y="307.18" font-size="8" text-anchor="middle" font-weight="bold" textLength="106" lengthAdjust="spacingAndGlyphs" transform="rotate(-90 268.6 304.3)">CD4 MFI Relative to Non-Tg</text>
<text x="280" y="308.88" font-size="8" text-anchor="middle" font-weight="bold" textLength="56" lengthAdjust="spacingAndGlyphs" transform="rotate(-90 280 306)">SdAb19<tspan font-size="64%" dy="-0.475em">+</tspan><tspan dy="0.304em"> GFP</tspan><tspan font-size="76%" dy="-0.4em">hi</tspan></text>
<path d="M313.95 294.5L313.95 294" stroke="#151515" stroke-width="1.05" fill="none"/>
<path d="M311.95 294L315.95 294" stroke="#151515" stroke-width="1.05" fill="none"/>
<rect x="309.00" y="294.50" width="9.90" height="72.70" fill="#000" stroke="#000" stroke-width="0"/>
<rect x="318.90" y="294.50" width="9.60" height="72.70" fill="#fff" stroke="#000" stroke-width="0.8"/>
<path d="M348.45 329.2L348.45 320.5" stroke="#151515" stroke-width="1.05" fill="none"/>
<path d="M346.45 320.5L350.45 320.5" stroke="#151515" stroke-width="1.05" fill="none"/>
<path d="M358.35 340.5L358.35 324.5" stroke="#151515" stroke-width="1.05" fill="none"/>
<path d="M356.35 324.5L360.35 324.5" stroke="#151515" stroke-width="1.05" fill="none"/>
<rect x="343.50" y="329.20" width="9.90" height="38.00" fill="#000" stroke="#000" stroke-width="0"/>
<rect x="353.40" y="340.50" width="9.60" height="26.70" fill="#fff" stroke="#000" stroke-width="0.8"/>
<path d="M382.34999999999997 311.2L382.34999999999997 295.3" stroke="#151515" stroke-width="1.05" fill="none"/>
<path d="M380.34999999999997 295.3L384.34999999999997 295.3" stroke="#151515" stroke-width="1.05" fill="none"/>
<rect x="377.40" y="311.20" width="9.90" height="56.00" fill="#000" stroke="#000" stroke-width="0"/>
<rect x="387.30" y="305.30" width="9.60" height="61.90" fill="#fff" stroke="#000" stroke-width="0.8"/>
<path d="M416.95 278.4L416.95 259.5" stroke="#151515" stroke-width="1.05" fill="none"/>
<path d="M414.95 259.5L418.95 259.5" stroke="#151515" stroke-width="1.05" fill="none"/>
<path d="M426.85 284.5L426.85 271.5" stroke="#151515" stroke-width="1.05" fill="none"/>
<path d="M424.85 271.5L428.85 271.5" stroke="#151515" stroke-width="1.05" fill="none"/>
<rect x="412.00" y="278.40" width="9.90" height="88.80" fill="#000" stroke="#000" stroke-width="0"/>
<rect x="421.90" y="284.50" width="9.60" height="82.70" fill="#fff" stroke="#000" stroke-width="0.8"/>
<path d="M450.75 340.7L450.75 339.3" stroke="#151515" stroke-width="1.05" fill="none"/>
<path d="M448.75 339.3L452.75 339.3" stroke="#151515" stroke-width="1.05" fill="none"/>
<rect x="445.80" y="340.70" width="9.90" height="26.50" fill="#000" stroke="#000" stroke-width="0"/>
<rect x="455.70" y="350.60" width="9.60" height="16.60" fill="#fff" stroke="#000" stroke-width="0.8"/>
<path d="M321.5 294.4L326 294.4" stroke="#000" stroke-width="0.7" fill="none"/>
<path d="M315 243.10000000000002L315 240.3L417 240.3L417 243.10000000000002" stroke="#000" stroke-width="1.2" fill="none"/>
<text x="366.3" y="238.68" font-size="6.6" text-anchor="middle" font-weight="bold" textLength="6.6" lengthAdjust="spacingAndGlyphs">ns</text>
<path d="M325.5 248.5L325.5 245.3L427 245.3L427 248.5" stroke="#000" stroke-width="1.2" fill="none"/>
<text x="377" y="244.68" font-size="6.6" text-anchor="middle" font-weight="bold" textLength="6.6" lengthAdjust="spacingAndGlyphs">ns</text>
<path d="M356.8 254.0L356.8 250.3L427 250.3L427 254.0" stroke="#000" stroke-width="1.2" fill="none"/>
<text x="395" y="252.92" font-size="9.5" text-anchor="middle" font-weight="bold">*</text>
<path d="M343.8 259.5L343.8 255.8L416.3 255.8L416.3 259.5" stroke="#000" stroke-width="1.2" fill="none"/>
<text x="382.5" y="258.42" font-size="9.5" text-anchor="middle" font-weight="bold">*</text>
<path d="M313.8 280L313.8 277L347.5 277L347.5 280" stroke="#000" stroke-width="1.2" fill="none"/>
<text x="330.8" y="277.52" font-size="9.5" text-anchor="middle" font-weight="bold" textLength="13.5" lengthAdjust="spacingAndGlyphs">***</text>
<path d="M324.3 291.0L324.3 287.3L359.5 287.3L359.5 291.0" stroke="#000" stroke-width="1.2" fill="none"/>
<text x="341.6" y="289.02" font-size="9.5" text-anchor="middle" font-weight="bold" textLength="13.5" lengthAdjust="spacingAndGlyphs">***</text>
<rect x="461.30" y="278.50" width="9.20" height="7.50" fill="#000" stroke="#000" stroke-width="0.6"/>
<rect x="461.30" y="291.00" width="9.20" height="7.50" fill="#fff" stroke="#000" stroke-width="0.8"/>
<text x="473.8" y="285.46" font-size="7.4" text-anchor="start" font-weight="bold" textLength="8.7" lengthAdjust="spacingAndGlyphs">DP</text>
<text x="472" y="297.09" font-size="7.2" text-anchor="start" font-weight="bold" textLength="40" lengthAdjust="spacingAndGlyphs">TcR<tspan font-size="64%" dy="-0.475em">+</tspan><tspan dy="0.304em"> CD4</tspan><tspan font-size="64%" dy="-0.475em">+</tspan><tspan dy="0.304em">SP</tspan></text>
<text x="316.6" y="376.81" font-size="7.8" text-anchor="middle" font-weight="bold" textLength="19" lengthAdjust="spacingAndGlyphs">GFP<tspan font-size="76%" dy="-0.4em">hi</tspan></text>
<text x="349.6" y="376.81" font-size="7.8" text-anchor="middle" font-weight="bold" textLength="14" lengthAdjust="spacingAndGlyphs">GFP<tspan font-size="76%" dy="-0.4em">-</tspan></text>
<text x="387.3" y="376.81" font-size="7.8" text-anchor="middle" font-weight="bold" textLength="24" lengthAdjust="spacingAndGlyphs">GFP<tspan font-size="76%" dy="-0.4em">low</tspan></text>
<text x="419.7" y="376.81" font-size="7.8" text-anchor="middle" font-weight="bold" textLength="19" lengthAdjust="spacingAndGlyphs">GFP<tspan font-size="76%" dy="-0.4em">hi</tspan></text>
<text x="279.5" y="388.08" font-size="8" text-anchor="start" font-weight="bold" textLength="29.5" lengthAdjust="spacingAndGlyphs">sdAb19:</text>
<text x="318.9" y="388.28" font-size="8" text-anchor="middle" font-weight="bold">+</text>
<text x="352.2" y="388.28" font-size="8" text-anchor="middle" font-weight="bold">+</text>
<text x="387.8" y="388.28" font-size="8" text-anchor="middle" font-weight="bold">+</text>
<text x="422" y="388.28" font-size="8" text-anchor="middle" font-weight="bold">+</text>
<path d="M453.2 385.6L458.3 385.6" stroke="#000" stroke-width="1.3" fill="none"/>
<path d="M305.9 391.3L335.2 391.3" stroke="#000" stroke-width="1.4" fill="none"/>
<path d="M342.7 391.3L470.7 391.3" stroke="#000" stroke-width="1.4" fill="none"/>
<text x="320" y="401.45" font-size="8.2" text-anchor="middle" font-weight="bold" textLength="27" lengthAdjust="spacingAndGlyphs">Non-Tg</text>
<text x="400" y="401.18" font-size="8" text-anchor="middle" font-weight="bold" textLength="8" lengthAdjust="spacingAndGlyphs">Tg</text>
</g>
</svg>
</body></html>
